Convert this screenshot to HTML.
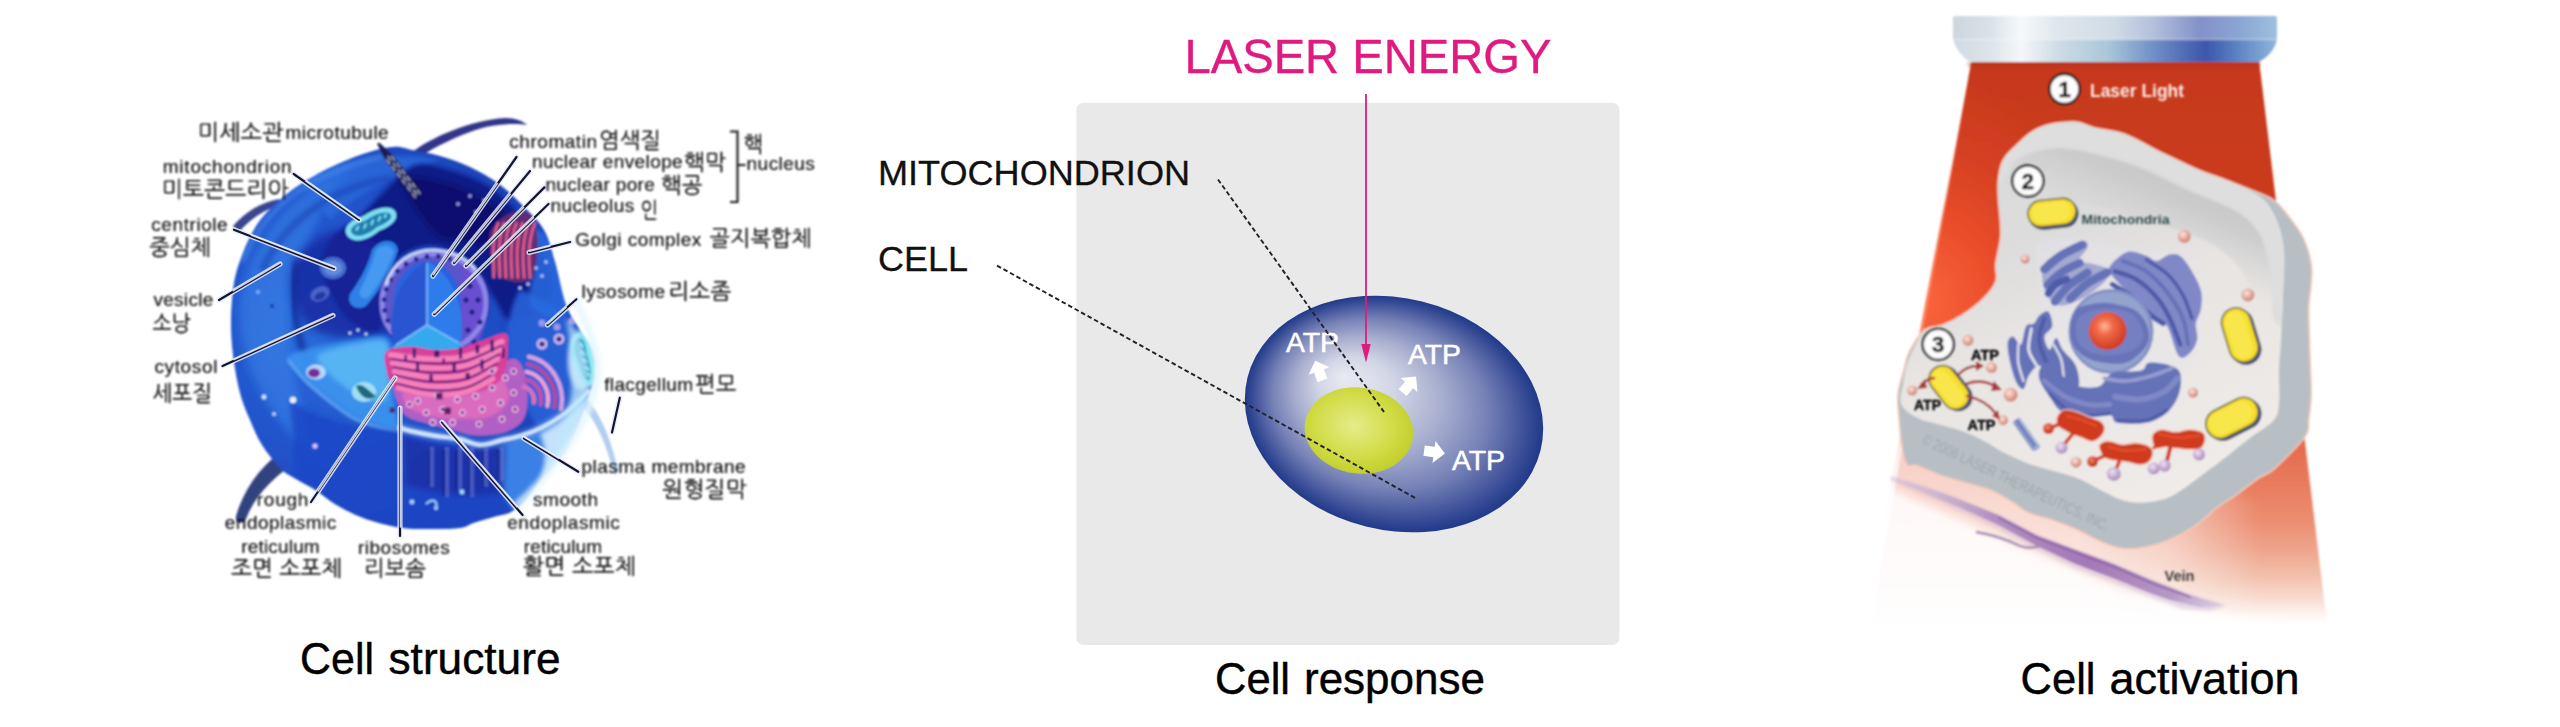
<!DOCTYPE html>
<html lang="ko"><head><meta charset="utf-8"><title>Cell structure, response, activation</title>
<style>
html,body{margin:0;padding:0;background:#fff;}
body{width:2560px;height:727px;overflow:hidden;position:relative;font-family:"Liberation Sans","Noto Sans CJK KR",sans-serif;}
svg{position:absolute;left:0;top:0;display:block}
text{font-family:"Liberation Sans","Noto Sans CJK KR",sans-serif;}
.cap{font-size:45px;fill:#000;stroke:#000;stroke-width:0.45px;}
.ko{font-family:"Liberation Sans","NanumGothic","Noto Sans CJK KR",sans-serif;stroke-width:0.2px;}
.b{font-weight:bold}
</style></head><body>
<svg width="2560" height="727" viewBox="0 0 2560 727">
<defs>

<filter id="lb1" x="-5%" y="-5%" width="110%" height="110%"><feGaussianBlur stdDeviation="1.1"/></filter>
<filter id="lb2" x="-10%" y="-10%" width="120%" height="120%"><feGaussianBlur stdDeviation="2.2"/></filter>
<filter id="lb4" x="-20%" y="-20%" width="140%" height="140%"><feGaussianBlur stdDeviation="4.5"/></filter>
<filter id="lb8" x="-30%" y="-30%" width="160%" height="160%"><feGaussianBlur stdDeviation="9"/></filter>
<filter id="ltx2" x="-5%" y="-20%" width="110%" height="140%"><feGaussianBlur stdDeviation="0.85"/></filter>
<filter id="ltx" x="-5%" y="-20%" width="110%" height="140%"><feGaussianBlur stdDeviation="0.75"/></filter>
<radialGradient id="gBody" gradientUnits="userSpaceOnUse" cx="330" cy="330" r="290">
<stop offset="0" stop-color="#2b6cdc"/><stop offset="0.45" stop-color="#2152ca"/><stop offset="0.8" stop-color="#1b43b9"/><stop offset="1" stop-color="#183aa8"/>
</radialGradient>
<clipPath id="cBody"><path d="M393.0,147.0 C401.2,146.3 404.2,148.5 412.0,150.0 C419.8,151.5 430.3,153.2 440.0,156.0 C449.7,158.8 460.2,162.3 470.0,167.0 C479.8,171.7 490.0,177.3 499.0,184.0 C508.0,190.7 516.5,199.3 524.0,207.0 C531.5,214.7 538.8,220.8 544.0,230.0 C549.2,239.2 551.3,249.5 555.0,262.0 C558.7,274.5 561.8,293.7 566.0,305.0 C570.2,316.3 575.7,322.5 580.0,330.0 C584.3,337.5 589.5,343.0 592.0,350.0 C594.5,357.0 595.3,365.0 595.0,372.0 C594.7,379.0 592.7,383.8 590.0,392.0 C587.3,400.2 582.8,411.7 579.0,421.0 C575.2,430.3 571.5,440.3 567.0,448.0 C562.5,455.7 556.8,461.2 552.0,467.0 C547.2,472.8 542.5,477.5 538.0,483.0 C533.5,488.5 529.5,495.2 525.0,500.0 C520.5,504.8 516.3,509.2 511.0,512.0 C505.7,514.8 499.3,515.2 493.0,517.0 C486.7,518.8 478.7,521.2 473.0,523.0 C467.3,524.8 468.2,527.0 459.0,528.0 C449.8,529.0 428.3,529.2 418.0,529.0 C407.7,528.8 404.0,528.2 397.0,527.0 C390.0,525.8 382.8,524.0 376.0,522.0 C369.2,520.0 362.8,518.0 356.0,515.0 C349.2,512.0 342.0,508.3 335.0,504.0 C328.0,499.7 320.8,493.3 314.0,489.0 C307.2,484.7 299.7,481.5 294.0,478.0 C288.3,474.5 285.3,473.5 280.0,468.0 C274.7,462.5 267.0,453.0 262.0,445.0 C257.0,437.0 253.7,428.7 250.0,420.0 C246.3,411.3 242.8,403.8 240.0,393.0 C237.2,382.2 234.5,367.2 233.0,355.0 C231.5,342.8 230.8,332.0 231.0,320.0 C231.2,308.0 232.3,293.3 234.0,283.0 C235.7,272.7 238.0,266.3 241.0,258.0 C244.0,249.7 247.7,240.7 252.0,233.0 C256.3,225.3 260.3,219.2 267.0,212.0 C273.7,204.8 282.0,197.2 292.0,190.0 C302.0,182.8 315.2,175.0 327.0,169.0 C338.8,163.0 352.0,157.7 363.0,154.0 C374.0,150.3 384.8,147.7 393.0,147.0 Z"/></clipPath>


<radialGradient id="gCell" cx="0.5" cy="0.5" r="0.5" fx="0.31" fy="0.40">
<stop offset="0" stop-color="#e9eaf2"/>
<stop offset="0.25" stop-color="#d2d6e6"/>
<stop offset="0.5" stop-color="#a6adce"/>
<stop offset="0.72" stop-color="#7681b6"/>
<stop offset="0.88" stop-color="#45579d"/>
<stop offset="1" stop-color="#20398a"/>
</radialGradient>
<radialGradient id="gMito" cx="0.45" cy="0.45" r="0.6">
<stop offset="0" stop-color="#e6ec8a"/>
<stop offset="0.6" stop-color="#d2dc48"/>
<stop offset="1" stop-color="#c0cc28"/>
</radialGradient>


<filter id="rbt" x="-5%" y="-20%" width="110%" height="140%"><feGaussianBlur stdDeviation="0.8"/></filter>
<filter id="rb1" x="-5%" y="-5%" width="110%" height="110%"><feGaussianBlur stdDeviation="0.8"/></filter>
<filter id="rb2" x="-10%" y="-10%" width="120%" height="120%"><feGaussianBlur stdDeviation="1.6"/></filter>
<filter id="rb8" x="-30%" y="-30%" width="160%" height="160%"><feGaussianBlur stdDeviation="9"/></filter>
<filter id="rb4" x="-20%" y="-20%" width="140%" height="140%"><feGaussianBlur stdDeviation="4"/></filter>
<linearGradient id="gHeadTop" x1="1953" x2="2277" y1="0" y2="0" gradientUnits="userSpaceOnUse">
<stop offset="0" stop-color="#ccd6de"/><stop offset="0.12" stop-color="#dbe3e9"/><stop offset="0.21" stop-color="#f6f9fb"/>
<stop offset="0.32" stop-color="#dfe7ec"/><stop offset="0.5" stop-color="#cfdbe6"/><stop offset="0.62" stop-color="#b3bfdc"/>
<stop offset="0.76" stop-color="#8391c9"/><stop offset="0.88" stop-color="#8aa4d2"/><stop offset="1" stop-color="#9dc0e0"/>
</linearGradient>
<linearGradient id="gHeadBot" x1="1953" x2="2277" y1="0" y2="0" gradientUnits="userSpaceOnUse">
<stop offset="0" stop-color="#d0dae2"/><stop offset="0.12" stop-color="#dde5eb"/><stop offset="0.21" stop-color="#f4f7fa"/>
<stop offset="0.32" stop-color="#cfdde6"/><stop offset="0.48" stop-color="#a9c6d9"/><stop offset="0.62" stop-color="#6f8fc6"/>
<stop offset="0.78" stop-color="#3b57ab"/><stop offset="0.88" stop-color="#5d84c4"/><stop offset="1" stop-color="#8fb6dc"/>
</linearGradient>
<linearGradient id="gBeam" x1="0" x2="0" y1="62" y2="625" gradientUnits="userSpaceOnUse">
<stop offset="0.000" stop-color="#c6391d"/><stop offset="0.245" stop-color="#cb3c1f"/><stop offset="0.423" stop-color="#d44324"/><stop offset="0.600" stop-color="#de5634"/><stop offset="0.671" stop-color="#e4694a"/><stop offset="0.742" stop-color="#e87a5c"/><stop offset="0.813" stop-color="#eb8d70"/><stop offset="0.867" stop-color="#eea58c"/><stop offset="0.920" stop-color="#f3c4b1"/><stop offset="0.956" stop-color="#f8dfd4"/><stop offset="0.982" stop-color="#fdf5f1"/><stop offset="1.000" stop-color="#ffffff"/>
</linearGradient>
<radialGradient id="gBeamL" gradientUnits="userSpaceOnUse" cx="1925" cy="300" r="185" gradientTransform="translate(1925 300) scale(1 1.25) translate(-1925 -300)">
<stop offset="0" stop-color="#ff6a42" stop-opacity="0.85"/><stop offset="0.35" stop-color="#f6552f" stop-opacity="0.7"/><stop offset="0.7" stop-color="#ee4c28" stop-opacity="0.3"/><stop offset="1" stop-color="#e84a28" stop-opacity="0"/>
</radialGradient>
<linearGradient id="gFadeL" x1="2080" x2="2260" y1="0" y2="0" gradientUnits="userSpaceOnUse">
<stop offset="0" stop-color="#fff" stop-opacity="0.7"/><stop offset="0.5" stop-color="#fff" stop-opacity="0.5"/><stop offset="1" stop-color="#fff" stop-opacity="0"/>
</linearGradient>
<linearGradient id="gBeamLm" x1="0" x2="0" y1="380" y2="520" gradientUnits="userSpaceOnUse">
<stop offset="0" stop-color="#fff" stop-opacity="0"/><stop offset="1" stop-color="#fff" stop-opacity="1"/>
</linearGradient>
<linearGradient id="gFace" x1="2000" y1="130" x2="2150" y2="500" gradientUnits="userSpaceOnUse">
<stop offset="0" stop-color="#dadada"/><stop offset="0.3" stop-color="#dedddd"/><stop offset="0.5" stop-color="#e7e4e2"/><stop offset="1" stop-color="#efebe8"/>
</linearGradient>
<radialGradient id="gNucS" cx="0.42" cy="0.38" r="0.62">
<stop offset="0" stop-color="#ffb89a"/><stop offset="0.35" stop-color="#ef6a48"/><stop offset="1" stop-color="#cf3a22"/>
</radialGradient>
<radialGradient id="gPink" cx="0.4" cy="0.35" r="0.65">
<stop offset="0" stop-color="#fbe6e0"/><stop offset="0.5" stop-color="#e8b0a4"/><stop offset="1" stop-color="#c98274"/>
</radialGradient>
<radialGradient id="gLav" cx="0.4" cy="0.35" r="0.65">
<stop offset="0" stop-color="#efe4f3"/><stop offset="0.5" stop-color="#cdb4d8"/><stop offset="1" stop-color="#a88ab8"/>
</radialGradient>
<radialGradient id="gRedB" cx="0.4" cy="0.35" r="0.65">
<stop offset="0" stop-color="#f08a6a"/><stop offset="0.6" stop-color="#d8482c"/><stop offset="1" stop-color="#b83018"/>
</radialGradient>
<linearGradient id="gVein" x1="1890" x2="2225" y1="478" y2="607" gradientUnits="userSpaceOnUse">
<stop offset="0" stop-color="#cdbcd8" stop-opacity="0.25"/><stop offset="0.12" stop-color="#c3aed0" stop-opacity="0.6"/><stop offset="0.3" stop-color="#b291c1"/><stop offset="0.6" stop-color="#a378b6"/><stop offset="0.85" stop-color="#b699c6"/><stop offset="1" stop-color="#d9cbe2" stop-opacity="0.7"/>
</linearGradient>

<clipPath id="cFace"><path d="M2003.0,162.0 C2005.5,156.8 2007.8,154.1 2013.7,148.6 C2019.7,143.1 2028.6,133.1 2038.5,128.8 C2048.4,124.5 2063.7,122.6 2073.2,122.6 C2082.7,122.6 2086.9,126.7 2095.5,128.8 C2104.1,130.9 2113.7,130.9 2124.8,135.0 C2135.8,139.1 2149.5,147.6 2161.9,153.6 C2174.3,159.5 2188.8,166.5 2199.1,170.9 C2209.4,175.3 2215.7,176.6 2223.8,179.8 C2232.0,183.0 2241.0,186.3 2248.0,190.0 C2255.0,193.7 2261.0,196.3 2266.0,202.0 C2271.0,207.7 2275.0,215.7 2278.0,224.0 C2281.0,232.3 2283.2,240.0 2284.0,252.0 C2284.8,264.0 2283.5,281.3 2283.0,296.0 C2282.5,310.7 2281.7,327.7 2281.0,340.0 C2280.3,352.3 2279.3,359.3 2279.0,370.0 C2278.7,380.7 2280.0,395.5 2279.0,404.0 C2278.0,412.5 2278.1,415.2 2273.0,421.0 C2267.9,426.8 2256.8,432.6 2248.6,438.9 C2240.4,445.2 2231.2,452.9 2223.8,458.7 C2216.4,464.5 2212.2,467.6 2204.0,473.6 C2195.8,479.6 2183.4,489.9 2174.3,494.7 C2165.2,499.4 2157.8,501.1 2149.5,502.1 C2141.3,503.1 2133.0,502.9 2124.8,500.9 C2116.5,498.8 2107.8,493.4 2100.0,489.7 C2092.2,486.0 2085.9,481.6 2078.1,478.5 C2070.4,475.4 2061.6,473.6 2053.4,471.1 C2045.1,468.6 2036.9,466.7 2028.6,463.7 C2020.4,460.6 2011.3,456.3 2003.8,452.5 C1996.4,448.7 1991.0,444.5 1984.0,440.9 C1977.0,437.3 1968.8,433.6 1961.7,431.0 C1954.7,428.4 1949.3,427.5 1941.9,425.3 C1934.5,423.1 1924.0,421.4 1917.2,417.8 C1910.3,414.2 1903.3,409.7 1901.1,403.7 C1898.8,397.7 1902.7,387.8 1903.5,381.9 C1904.4,376.0 1904.6,373.3 1906.0,368.3 C1907.4,363.3 1908.9,358.2 1912.0,352.0 C1915.1,345.8 1919.6,335.2 1924.6,330.9 C1929.6,326.6 1935.7,328.4 1941.9,325.9 C1948.1,323.5 1954.7,320.6 1961.7,316.0 C1968.8,311.5 1978.2,304.5 1984.0,298.7 C1989.8,292.9 1994.3,287.1 1996.4,281.4 C1998.5,275.6 1995.6,271.9 1996.4,264.0 C1997.2,256.2 2000.9,245.4 2001.4,234.3 C2001.8,223.2 1999.3,206.2 1998.9,197.2 C1998.5,188.1 1998.3,185.9 1999.0,180.0 C1999.7,174.1 2000.5,167.2 2003.0,162.0 Z"/></clipPath>
<clipPath id="cOuter"><path d="M2003.0,162.0 C2005.5,156.8 2007.8,154.1 2013.7,148.6 C2019.7,143.1 2028.6,133.1 2038.5,128.8 C2048.4,124.5 2063.7,122.6 2073.2,122.6 C2082.7,122.6 2086.9,126.7 2095.5,128.8 C2104.1,130.9 2113.7,130.9 2124.8,135.0 C2135.8,139.1 2149.5,147.6 2161.9,153.6 C2174.3,159.5 2188.8,166.5 2199.1,170.9 C2209.4,175.3 2215.6,176.7 2223.8,179.8 C2232.1,183.0 2240.4,186.2 2248.6,189.7 C2256.9,193.2 2266.8,196.3 2273.4,200.9 C2280.0,205.4 2283.3,210.6 2288.2,217.0 C2293.2,223.4 2299.4,231.4 2303.1,239.3 C2306.8,247.1 2309.3,256.6 2310.5,264.0 C2311.8,271.5 2310.9,276.4 2310.5,283.8 C2310.1,291.3 2308.3,296.4 2308.0,308.6 C2307.8,320.8 2308.9,342.9 2309.3,357.2 C2309.7,371.4 2310.7,384.0 2310.5,394.3 C2310.3,404.6 2309.1,412.1 2308.0,419.1 C2307.0,426.1 2310.1,428.2 2304.3,436.4 C2298.6,444.7 2281.0,461.8 2273.4,468.6 C2265.7,475.4 2264.3,473.4 2258.5,477.3 C2252.7,481.3 2245.7,487.2 2238.7,492.2 C2231.7,497.2 2223.0,502.1 2216.4,507.1 C2209.8,512.0 2206.1,517.0 2199.1,521.9 C2192.1,526.9 2182.6,532.9 2174.3,536.8 C2166.0,540.7 2157.8,543.6 2149.5,545.4 C2141.3,547.3 2132.5,548.5 2124.8,547.9 C2117.0,547.3 2110.7,544.8 2102.9,541.7 C2095.1,538.6 2086.4,533.1 2078.1,529.3 C2069.9,525.6 2061.6,522.3 2053.4,519.4 C2045.1,516.6 2035.2,514.9 2028.6,512.0 C2022.0,509.1 2019.9,505.8 2013.7,502.1 C2007.6,498.4 1999.3,493.0 1991.5,489.7 C1983.6,486.4 1974.9,484.8 1966.7,482.3 C1958.4,479.8 1950.2,477.8 1941.9,474.9 C1933.7,472.0 1922.9,466.8 1917.2,465.0 C1911.4,463.1 1909.7,467.2 1907.2,463.7 C1904.8,460.1 1903.5,451.3 1902.3,443.8 C1901.1,436.4 1900.4,427.3 1899.8,419.1 C1899.2,410.8 1897.8,402.6 1898.6,394.3 C1899.4,386.0 1902.9,376.6 1904.8,369.5 C1906.7,362.5 1906.7,358.4 1910.0,352.0 C1913.3,345.6 1919.3,335.2 1924.6,330.9 C1929.9,326.6 1935.7,328.4 1941.9,325.9 C1948.1,323.5 1954.7,320.6 1961.7,316.0 C1968.8,311.5 1978.2,304.5 1984.0,298.7 C1989.8,292.9 1994.3,287.1 1996.4,281.4 C1998.5,275.6 1995.6,271.9 1996.4,264.0 C1997.2,256.2 2000.9,245.4 2001.4,234.3 C2001.8,223.2 1999.3,206.2 1998.9,197.2 C1998.5,188.1 1998.3,185.9 1999.0,180.0 C1999.7,174.1 2000.5,167.2 2003.0,162.0 Z"/></clipPath>
<linearGradient id="gBand" x1="2160" y1="165" x2="2125" y2="245" gradientUnits="userSpaceOnUse"><stop offset="0" stop-color="#c6c6c8" stop-opacity="1"/><stop offset="0.35" stop-color="#cbcbcc" stop-opacity="0.9"/><stop offset="1" stop-color="#d6d5d5" stop-opacity="0"/></linearGradient>
</defs>
<rect width="2560" height="727" fill="#fff"/>
<!--LEFT-->
<g id="left">
<g filter="url(#lb1)">
<path d="M411,153 C430,138 470,120 505,118 C515,118 523,121 527,125 C515,123 490,124 470,132 C448,140 430,150 418,158 Z" fill="#32358a"/>
<path d="M281,452 C258,468 243,492 236,516 C235,523 242,526 246,519 C254,498 270,480 292,465 Z" fill="#33427f"/>
<path d="M233,226 C246,211 262,202 279,199 L281,205 C265,209 250,219 238,233 Z" fill="#3a4590"/>
<path d="M588,400 C600,415 610,435 618,470 C616,480 612,470 610,460 C604,440 596,422 584,408 Z" fill="#9fc3ec" opacity="0.8"/>
<path d="M393.0,147.0 C401.2,146.3 404.2,148.5 412.0,150.0 C419.8,151.5 430.3,153.2 440.0,156.0 C449.7,158.8 460.2,162.3 470.0,167.0 C479.8,171.7 490.0,177.3 499.0,184.0 C508.0,190.7 516.5,199.3 524.0,207.0 C531.5,214.7 538.8,220.8 544.0,230.0 C549.2,239.2 551.3,249.5 555.0,262.0 C558.7,274.5 561.8,293.7 566.0,305.0 C570.2,316.3 575.7,322.5 580.0,330.0 C584.3,337.5 589.5,343.0 592.0,350.0 C594.5,357.0 595.3,365.0 595.0,372.0 C594.7,379.0 592.7,383.8 590.0,392.0 C587.3,400.2 582.8,411.7 579.0,421.0 C575.2,430.3 571.5,440.3 567.0,448.0 C562.5,455.7 556.8,461.2 552.0,467.0 C547.2,472.8 542.5,477.5 538.0,483.0 C533.5,488.5 529.5,495.2 525.0,500.0 C520.5,504.8 516.3,509.2 511.0,512.0 C505.7,514.8 499.3,515.2 493.0,517.0 C486.7,518.8 478.7,521.2 473.0,523.0 C467.3,524.8 468.2,527.0 459.0,528.0 C449.8,529.0 428.3,529.2 418.0,529.0 C407.7,528.8 404.0,528.2 397.0,527.0 C390.0,525.8 382.8,524.0 376.0,522.0 C369.2,520.0 362.8,518.0 356.0,515.0 C349.2,512.0 342.0,508.3 335.0,504.0 C328.0,499.7 320.8,493.3 314.0,489.0 C307.2,484.7 299.7,481.5 294.0,478.0 C288.3,474.5 285.3,473.5 280.0,468.0 C274.7,462.5 267.0,453.0 262.0,445.0 C257.0,437.0 253.7,428.7 250.0,420.0 C246.3,411.3 242.8,403.8 240.0,393.0 C237.2,382.2 234.5,367.2 233.0,355.0 C231.5,342.8 230.8,332.0 231.0,320.0 C231.2,308.0 232.3,293.3 234.0,283.0 C235.7,272.7 238.0,266.3 241.0,258.0 C244.0,249.7 247.7,240.7 252.0,233.0 C256.3,225.3 260.3,219.2 267.0,212.0 C273.7,204.8 282.0,197.2 292.0,190.0 C302.0,182.8 315.2,175.0 327.0,169.0 C338.8,163.0 352.0,157.7 363.0,154.0 C374.0,150.3 384.8,147.7 393.0,147.0 Z" fill="url(#gBody)"/>
<g clip-path="url(#cBody)">
<path d="M240,300 C250,240 290,190 350,165 C330,200 300,240 290,300 C285,350 300,420 330,470 C290,440 235,380 240,300 Z" fill="#3a86ea" opacity="0.55" filter="url(#lb4)"/>
<path d="M300,180 C340,160 400,150 440,160 C400,175 360,190 330,220 Z" fill="#2f6fe0" opacity="0.7" filter="url(#lb2)"/>
<path d="M242,262 C256,228 280,200 312,182 C336,170 360,160 384,156" fill="none" stroke="#4a8cee" stroke-width="5" opacity="0.7" filter="url(#lb2)"/>
<path d="M262,270 C276,240 300,215 330,198 C350,188 372,180 392,178" fill="none" stroke="#173aa8" stroke-width="6" opacity="0.55" filter="url(#lb2)"/>
<path d="M415.0,165.0 C425.8,161.7 438.3,166.8 450.0,170.0 C461.7,173.2 474.7,178.0 485.0,184.0 C495.3,190.0 504.2,198.0 512.0,206.0 C519.8,214.0 526.3,222.7 532.0,232.0 C537.7,241.3 542.7,252.3 546.0,262.0 C549.3,271.7 553.0,282.0 552.0,290.0 C551.0,298.0 547.0,305.0 540.0,310.0 C533.0,315.0 517.5,321.7 510.0,320.0 C502.5,318.3 501.7,309.7 495.0,300.0 C488.3,290.3 480.8,271.0 470.0,262.0 C459.2,253.0 442.5,246.0 430.0,246.0 C417.5,246.0 403.3,253.0 395.0,262.0 C386.7,271.0 382.8,288.7 380.0,300.0 C377.2,311.3 383.0,326.7 378.0,330.0 C373.0,333.3 358.0,326.7 350.0,320.0 C342.0,313.3 334.7,299.7 330.0,290.0 C325.3,280.3 321.2,271.0 322.0,262.0 C322.8,253.0 328.3,244.0 335.0,236.0 C341.7,228.0 353.7,221.7 362.0,214.0 C370.3,206.3 376.2,198.2 385.0,190.0 C393.8,181.8 404.2,168.3 415.0,165.0 Z" fill="#0d1a86" filter="url(#lb2)"/>
<path d="M398,176 C430,176 470,186 500,210 C520,230 530,250 530,270 C500,250 470,240 440,238 C420,220 410,200 398,176 Z" fill="#070f6a" opacity="0.8" filter="url(#lb2)"/>
<path d="M297.0,258.0 C303.3,248.0 317.5,235.7 330.0,232.0 C342.5,228.3 360.0,228.7 372.0,236.0 C384.0,243.3 397.7,260.7 402.0,276.0 C406.3,291.3 407.5,317.7 398.0,328.0 C388.5,338.3 360.0,338.3 345.0,338.0 C330.0,337.7 316.8,333.7 308.0,326.0 C299.2,318.3 293.8,303.3 292.0,292.0 C290.2,280.7 290.7,268.0 297.0,258.0 Z" fill="#14249a" opacity="0.75" filter="url(#lb4)"/>
<path d="M296,262 C290,300 296,340 312,372" fill="none" stroke="#10208a" stroke-width="7" opacity="0.6" filter="url(#lb2)"/>
<path d="M520,290 C550,300 580,320 596,360 C596,400 580,430 560,455 C540,440 520,400 510,360 C505,330 510,305 520,290 Z" fill="#2a62d8" opacity="0.9" filter="url(#lb2)"/>
<path d="M287.7,357.8 C287.7,352.7 298.9,351.7 305.8,349.5 C312.7,347.3 320.1,346.3 328.9,344.6 C337.7,342.8 349.3,340.2 358.6,338.9 C368.0,337.7 379.5,334.1 385.0,337.0 C390.5,339.8 390.5,348.0 391.6,356.1 C392.7,364.2 390.5,373.7 391.6,385.8 C392.7,397.9 400.4,422.0 398.2,428.7 C396.0,435.4 386.1,428.2 378.4,426.1 C370.7,424.0 360.3,420.6 352.0,416.2 C343.8,411.8 336.6,405.7 328.9,399.7 C321.2,393.6 312.7,386.9 305.8,379.9 C298.9,372.9 287.7,362.8 287.7,357.8 Z" fill="#3b93ee" opacity="0.95" filter="url(#lb2)"/>
<path d="M319.0,354.5 C324.0,350.9 341.0,346.8 352.0,344.6 C363.0,342.4 379.0,337.7 385.0,341.3 C391.1,344.8 388.0,356.4 388.3,366.0 C388.6,375.6 390.5,393.5 386.7,399.0 C382.8,404.5 373.2,401.8 365.2,399.0 C357.2,396.3 346.0,388.0 338.8,382.5 C331.7,377.0 325.6,370.7 322.3,366.0 C319.0,361.3 314.1,358.0 319.0,354.5 Z" fill="#62c0f6" opacity="0.75" filter="url(#lb2)"/>
<path d="M287.7,359.4 C290.7,363.0 298.9,374.0 305.8,380.9 C312.7,387.7 321.2,394.6 328.9,400.7 C336.6,406.7 343.8,412.8 352.0,417.2 C360.3,421.6 369.6,424.6 378.4,427.1 C387.2,429.5 400.4,431.2 404.8,432.0" fill="none" stroke="#6db4f6" stroke-width="3" opacity="0.8" filter="url(#lb1)"/>
<path d="M290,400 C320,420 360,432 400,430 C440,445 490,448 540,430 C570,418 588,404 596,390 L600,470 L520,530 L400,545 L300,500 Z" fill="#1a45c6" opacity="0.8" filter="url(#lb2)"/>
<path d="M500,446 C530,438 560,422 590,394 C590,430 560,475 515,512 C500,495 492,470 500,446 Z" fill="#3f8cec" opacity="0.85" filter="url(#lb2)"/>
<path d="M540,434 C562,422 580,406 594,390 C594,428 572,462 536,494 C546,470 548,452 540,434 Z" fill="#d4ebfd" opacity="0.9" filter="url(#lb2)"/>
<path d="M398.0,427.0 C399.9,427.6 403.4,429.2 409.5,430.7 C415.6,432.1 426.1,434.3 434.3,435.7 C442.6,437.1 451.4,437.4 459.0,439.0 C466.6,440.6 473.1,444.8 480.0,445.0 C486.9,445.2 493.7,442.1 500.6,440.5 C507.5,438.9 514.4,437.9 521.3,435.7 C528.2,433.5 535.1,430.9 542.0,427.5 C548.9,424.1 556.4,419.5 562.6,415.0 C568.8,410.5 574.5,404.7 579.0,400.6 C583.5,396.5 587.7,392.0 589.4,390.3" fill="none" stroke="#eef7ff" stroke-width="4" opacity="0.97"/>
<path d="M398.0,427.0 C399.9,427.6 403.4,429.2 409.5,430.7 C415.6,432.1 426.1,434.3 434.3,435.7 C442.6,437.1 451.4,437.4 459.0,439.0 C466.6,440.6 473.1,444.8 480.0,445.0 C486.9,445.2 493.7,442.1 500.6,440.5 C507.5,438.9 514.4,437.9 521.3,435.7 C528.2,433.5 535.1,430.9 542.0,427.5 C548.9,424.1 556.4,419.5 562.6,415.0 C568.8,410.5 574.5,404.7 579.0,400.6 C583.5,396.5 587.7,392.0 589.4,390.3" fill="none" stroke="#a8d6ff" stroke-width="8" opacity="0.45" filter="url(#lb2)"/>
<path d="M404,436 C440,448 480,452 506,446 L504,492 C470,498 430,494 406,484 Z" fill="#1a2596" opacity="0.55" filter="url(#lb2)"/>
<rect x="428" y="450" width="5" height="36" fill="#141c80" opacity="0.5"/>
<rect x="442" y="450" width="5" height="46" fill="#141c80" opacity="0.5"/>
<rect x="455" y="450" width="5" height="40" fill="#141c80" opacity="0.5"/>
<rect x="468" y="450" width="5" height="46" fill="#141c80" opacity="0.5"/>
<rect x="482" y="450" width="5" height="38" fill="#141c80" opacity="0.5"/>
<rect x="496" y="450" width="5" height="30" fill="#141c80" opacity="0.5"/>
<rect x="430" y="447" width="4" height="40" fill="#6a7ee0" opacity="0.55"/>
<rect x="445" y="447" width="4" height="50" fill="#6a7ee0" opacity="0.55"/>
<rect x="458" y="447" width="4" height="44" fill="#6a7ee0" opacity="0.55"/>
<rect x="470" y="447" width="4" height="50" fill="#6a7ee0" opacity="0.55"/>
<rect x="484" y="447" width="4" height="40" fill="#6a7ee0" opacity="0.55"/>
<rect x="500" y="447" width="4" height="34" fill="#6a7ee0" opacity="0.55"/>
<path d="M372,250 C380,238 396,238 398,250 C392,272 378,292 366,306 C356,312 346,304 350,294 C360,280 368,266 372,250 Z" fill="#2f7fe6"/>
<path d="M376,250 C382,244 392,244 394,252 C388,270 378,286 368,298 C362,300 358,296 360,290 C366,278 372,266 376,250 Z" fill="#4aa0f4" opacity="0.8"/>
<ellipse cx="333" cy="268" rx="13" ry="11" fill="#4a78d6" opacity="0.9"/><ellipse cx="333" cy="268" rx="9" ry="7" fill="#6d93e0" opacity="0.8"/>
<ellipse cx="320" cy="294" rx="10" ry="7" fill="#5a6fd0" opacity="0.8" transform="rotate(-25 320 294)"/><ellipse cx="320" cy="296" rx="6" ry="3.5" fill="#1a2f9a" opacity="0.8" transform="rotate(-25 320 296)"/>
<ellipse cx="434" cy="303" rx="56" ry="53" fill="#232a96"/>
<ellipse cx="434" cy="303" rx="52" ry="49" fill="#5a54c8"/>
<path d="M462,262 C480,275 488,295 486,318 C484,335 476,346 468,352 C462,330 460,290 462,262 Z" fill="#6a4fd0" opacity="0.9"/>
<ellipse cx="434" cy="303" rx="52" ry="49" fill="none" stroke="#8c86ea" stroke-width="5"/>
<circle cx="393.0" cy="330.0" r="2.4" fill="#1c1f86"/>
<circle cx="387.6" cy="320.6" r="2.4" fill="#1c1f86"/>
<circle cx="384.6" cy="310.4" r="2.4" fill="#1c1f86"/>
<circle cx="384.1" cy="299.7" r="2.4" fill="#1c1f86"/>
<circle cx="386.2" cy="289.3" r="2.4" fill="#1c1f86"/>
<circle cx="390.7" cy="279.5" r="2.4" fill="#1c1f86"/>
<circle cx="397.4" cy="270.9" r="2.4" fill="#1c1f86"/>
<circle cx="406.0" cy="264.0" r="2.4" fill="#1c1f86"/>
<circle cx="416.1" cy="259.1" r="2.4" fill="#1c1f86"/>
<circle cx="427.0" cy="256.5" r="2.4" fill="#1c1f86"/>
<circle cx="438.4" cy="256.2" r="2.4" fill="#1c1f86"/>
<circle cx="449.5" cy="258.3" r="2.4" fill="#1c1f86"/>
<circle cx="470.0" cy="286.0" r="2.6" fill="#1a1a80"/>
<circle cx="478.0" cy="300.0" r="2.6" fill="#1a1a80"/>
<circle cx="472.0" cy="312.0" r="2.6" fill="#1a1a80"/>
<circle cx="480.0" cy="322.0" r="2.6" fill="#1a1a80"/>
<circle cx="468.0" cy="330.0" r="2.6" fill="#1a1a80"/>
<circle cx="474.0" cy="342.0" r="2.6" fill="#1a1a80"/>
<circle cx="466.0" cy="300.0" r="2.6" fill="#1a1a80"/>
<path d="M386,285 C392,262 412,250 434,250 C452,251 466,258 476,270" fill="none" stroke="#d6e4ff" stroke-width="3" opacity="0.9"/>
<ellipse cx="427" cy="305" rx="34" ry="44" fill="#2a62de"/>
<path d="M427,261 L427,325 L394,346 C386,320 394,280 427,261 Z" fill="#2b55d2"/>
<path d="M427,261 L427,325 L460,344 C466,318 458,278 427,261 Z" fill="#2f7bec"/>
<path d="M427,325 L392,347 C402,360 452,360 462,345 Z" fill="#35a8ee"/>
<path d="M427,263 L427,325 M427,325 L396,345 M427,325 L459,343" stroke="#8ccaff" stroke-width="1.6" fill="none" opacity="0.85"/>
<path d="M393.0,379.5 C395.2,377.3 403.5,384.8 409.5,386.1 C415.6,387.5 422.2,387.5 429.4,387.8 C436.5,388.1 444.8,388.3 452.5,387.8 C460.2,387.2 468.4,386.4 475.6,384.5 C482.7,382.6 489.9,380.4 495.4,376.2 C500.9,372.1 504.5,361.9 508.6,359.7 C512.7,357.5 517.0,358.9 520.0,363.0 C523.0,367.2 525.9,375.7 526.8,384.5 C527.6,393.3 528.2,408.2 525.1,415.9 C522.1,423.6 516.3,427.4 508.6,430.7 C500.9,434.0 488.2,435.8 478.9,435.7 C469.5,435.5 461.3,432.0 452.5,429.9 C443.7,427.8 433.8,425.6 426.1,423.3 C418.3,421.0 411.2,419.9 406.2,415.9 C401.3,411.9 398.5,405.4 396.3,399.4 C394.1,393.3 390.8,381.7 393.0,379.5 Z" fill="#b860c4" opacity="0.95"/>
<path d="M402.9,392.7 C406.2,390.8 420.0,395.5 429.4,396.1 C438.7,396.6 449.7,397.2 459.1,396.1 C468.4,394.9 478.3,392.2 485.5,389.4 C492.7,386.7 498.2,377.9 502.0,379.5 C505.9,381.2 510.3,393.3 508.6,399.4 C507.0,405.4 500.4,412.6 492.1,415.9 C483.8,419.2 469.5,419.2 459.1,419.2 C448.6,419.2 437.6,417.8 429.4,415.9 C421.1,413.9 413.9,411.5 409.5,407.6 C405.1,403.8 399.6,394.7 402.9,392.7 Z" fill="#e870bc" opacity="0.75" filter="url(#lb1)"/>
<path d="M386.4,351.5 C390.3,347.6 401.6,346.8 409.5,346.5 C417.5,346.2 426.1,349.5 434.3,349.8 C442.6,350.1 450.8,349.8 459.1,348.2 C467.3,346.5 476.1,342.4 483.8,339.9 C491.5,337.4 501.3,332.2 505.3,333.3 C509.3,334.4 507.6,341.0 507.8,346.5 C507.9,352.0 507.9,360.3 506.1,366.3 C504.3,372.4 502.1,378.4 497.1,382.8 C492.0,387.2 483.0,390.5 475.6,392.7 C468.2,394.9 460.2,395.5 452.5,396.1 C444.8,396.6 436.5,396.5 429.4,396.1 C422.2,395.6 415.6,395.2 409.5,393.6 C403.5,391.9 396.9,390.1 393.0,386.1 C389.2,382.2 387.5,375.4 386.4,369.6 C385.3,363.9 382.6,355.3 386.4,351.5 Z" fill="#d8409a"/>
<path d="M390.5,354.8 C397.0,355.5 416.8,358.6 429.4,358.9 C441.9,359.2 453.6,359.3 465.7,356.4 C477.8,353.5 496.0,344.0 502.0,341.6" fill="none" stroke="#f680bc" stroke-width="5.4" stroke-linecap="round"/>
<path d="M392.5,363.0 C398.7,363.9 417.2,367.6 429.4,368.0 C441.5,368.4 454.0,368.5 465.7,365.5 C477.4,362.5 494.0,352.4 499.7,349.8" fill="none" stroke="#f680bc" stroke-width="5.4" stroke-linecap="round"/>
<path d="M394.5,371.3 C400.3,372.2 417.5,376.5 429.4,377.1 C441.2,377.6 454.3,377.6 465.7,374.6 C477.0,371.6 492.1,361.5 497.4,358.9" fill="none" stroke="#f680bc" stroke-width="5.4" stroke-linecap="round"/>
<path d="M396.5,379.5 C402.0,380.6 417.8,385.5 429.4,386.1 C440.9,386.8 454.7,386.6 465.7,383.7 C476.6,380.8 490.2,371.3 495.1,368.8" fill="none" stroke="#f680bc" stroke-width="5.4" stroke-linecap="round"/>
<path d="M398.5,387.8 C403.6,388.9 418.2,393.7 429.4,394.4 C440.6,395.1 455.1,394.5 465.7,391.9 C476.2,389.3 488.2,380.9 492.8,378.7" fill="none" stroke="#f680bc" stroke-width="5.4" stroke-linecap="round"/>
<path d="M391.4,358.9 C397.7,359.7 417.0,363.2 429.4,363.5 C441.7,363.9 453.7,364.0 465.7,361.0 C477.7,358.1 495.3,348.2 501.2,345.7" fill="none" stroke="#5a1a78" stroke-width="2" stroke-linecap="round" opacity="0.85"/>
<path d="M393.4,367.2 C399.4,368.0 417.3,372.0 429.4,372.4 C441.4,372.9 454.1,373.0 465.7,370.0 C477.3,367.0 493.3,357.0 498.9,354.4" fill="none" stroke="#5a1a78" stroke-width="2" stroke-linecap="round" opacity="0.85"/>
<path d="M395.3,375.4 C401.0,376.5 417.6,381.1 429.4,381.7 C441.1,382.3 454.5,382.2 465.7,379.2 C476.9,376.2 491.4,366.4 496.6,363.9" fill="none" stroke="#5a1a78" stroke-width="2" stroke-linecap="round" opacity="0.85"/>
<path d="M397.3,383.7 C402.7,384.8 418.0,389.6 429.4,390.3 C440.7,391.0 454.9,390.6 465.7,387.8 C476.5,385.0 489.5,375.7 494.2,373.3" fill="none" stroke="#5a1a78" stroke-width="2" stroke-linecap="round" opacity="0.85"/>
<rect x="412.8" y="348.2" width="3.0" height="9.9" fill="#35106a" opacity="0.9"/>
<rect x="434.3" y="350.6" width="5.0" height="6.6" fill="#35106a" opacity="0.9"/>
<rect x="459.1" y="347.3" width="3.0" height="11.6" fill="#35106a" opacity="0.9"/>
<rect x="475.6" y="344.9" width="3.6" height="8.3" fill="#35106a" opacity="0.9"/>
<rect x="490.4" y="339.9" width="3.3" height="11.6" fill="#35106a" opacity="0.9"/>
<rect x="416.1" y="363.0" width="3.0" height="8.3" fill="#35106a" opacity="0.9"/>
<rect x="452.5" y="363.0" width="3.3" height="8.3" fill="#35106a" opacity="0.9"/>
<rect x="480.5" y="359.7" width="3.0" height="9.9" fill="#35106a" opacity="0.9"/>
<rect x="429.4" y="374.6" width="3.3" height="6.6" fill="#35106a" opacity="0.9"/>
<rect x="465.7" y="372.9" width="4.0" height="6.6" fill="#35106a" opacity="0.9"/>
<rect x="404.6" y="354.8" width="2.3" height="6.6" fill="#35106a" opacity="0.9"/>
<rect x="502.0" y="348.2" width="2.6" height="9.9" fill="#35106a" opacity="0.9"/>
<rect x="442.6" y="358.1" width="2.3" height="5.0" fill="#35106a" opacity="0.9"/>
<circle cx="417.8" cy="401.0" r="3.4" fill="#f2b4e6"/><circle cx="417.8" cy="401.0" r="1.7" fill="#2c0e70"/>
<circle cx="437.6" cy="395.2" r="3.4" fill="#f2b4e6"/><circle cx="437.6" cy="395.2" r="1.7" fill="#2c0e70"/>
<circle cx="457.4" cy="399.4" r="3.4" fill="#f2b4e6"/><circle cx="457.4" cy="399.4" r="1.7" fill="#2c0e70"/>
<circle cx="475.6" cy="396.1" r="3.4" fill="#f2b4e6"/><circle cx="475.6" cy="396.1" r="1.7" fill="#2c0e70"/>
<circle cx="492.1" cy="387.8" r="3.4" fill="#f2b4e6"/><circle cx="492.1" cy="387.8" r="1.7" fill="#2c0e70"/>
<circle cx="505.3" cy="377.9" r="3.4" fill="#f2b4e6"/><circle cx="505.3" cy="377.9" r="1.7" fill="#2c0e70"/>
<circle cx="513.6" cy="392.7" r="3.4" fill="#f2b4e6"/><circle cx="513.6" cy="392.7" r="1.7" fill="#2c0e70"/>
<circle cx="500.4" cy="402.7" r="3.4" fill="#f2b4e6"/><circle cx="500.4" cy="402.7" r="1.7" fill="#2c0e70"/>
<circle cx="482.2" cy="409.3" r="3.4" fill="#f2b4e6"/><circle cx="482.2" cy="409.3" r="1.7" fill="#2c0e70"/>
<circle cx="462.4" cy="412.6" r="3.4" fill="#f2b4e6"/><circle cx="462.4" cy="412.6" r="1.7" fill="#2c0e70"/>
<circle cx="442.6" cy="409.3" r="3.4" fill="#f2b4e6"/><circle cx="442.6" cy="409.3" r="1.7" fill="#2c0e70"/>
<circle cx="426.1" cy="412.6" r="3.4" fill="#f2b4e6"/><circle cx="426.1" cy="412.6" r="1.7" fill="#2c0e70"/>
<circle cx="409.5" cy="404.3" r="3.4" fill="#f2b4e6"/><circle cx="409.5" cy="404.3" r="1.7" fill="#2c0e70"/>
<circle cx="515.2" cy="409.3" r="3.4" fill="#f2b4e6"/><circle cx="515.2" cy="409.3" r="1.7" fill="#2c0e70"/>
<circle cx="502.0" cy="419.2" r="3.4" fill="#f2b4e6"/><circle cx="502.0" cy="419.2" r="1.7" fill="#2c0e70"/>
<circle cx="478.9" cy="424.1" r="3.4" fill="#f2b4e6"/><circle cx="478.9" cy="424.1" r="1.7" fill="#2c0e70"/>
<circle cx="452.5" cy="422.5" r="3.4" fill="#f2b4e6"/><circle cx="452.5" cy="422.5" r="1.7" fill="#2c0e70"/>
<circle cx="432.7" cy="422.5" r="3.4" fill="#f2b4e6"/><circle cx="432.7" cy="422.5" r="1.7" fill="#2c0e70"/>
<circle cx="513.6" cy="371.3" r="3.4" fill="#f2b4e6"/><circle cx="513.6" cy="371.3" r="1.7" fill="#2c0e70"/>
<circle cx="492.1" cy="371.3" r="3.4" fill="#f2b4e6"/><circle cx="492.1" cy="371.3" r="1.7" fill="#2c0e70"/>
<rect x="436.0" y="392.7" width="6.6" height="6.6" fill="#4a0e50" opacity="0.85"/>
<rect x="444.2" y="407.6" width="6.6" height="6.6" fill="#4a0e50" opacity="0.85"/>
<rect x="389.7" y="407.6" width="5.0" height="5.0" fill="#4a0e50" opacity="0.85"/>
<path d="M533.0,232.0 C535.0,227.0 541.9,230.3 546.0,236.0 C550.1,241.7 553.3,255.0 557.6,266.0 C561.9,277.0 571.6,293.3 572.0,302.0 C572.4,310.7 567.0,317.3 560.0,318.0 C553.0,318.7 534.3,314.7 530.0,306.0 C525.7,297.3 533.5,278.3 534.0,266.0 C534.5,253.7 531.0,237.0 533.0,232.0 Z" fill="#2c6ae0" opacity="0.85" filter="url(#lb2)"/>
<path d="M490,232 C500,214 516,208 530,214 C540,228 540,256 532,278 C520,286 504,282 496,272 C490,260 488,246 490,232 Z" fill="#6a2a70" opacity="0.92"/>
<g transform="rotate(10 512 248)">
<path d="M494,226 C490,243 496,262 499,280" fill="none" stroke="#dc5f8c" stroke-width="2.8" stroke-linecap="round"/>
<path d="M500,225 C496,243 502,262 505,279" fill="none" stroke="#dc5f8c" stroke-width="2.8" stroke-linecap="round"/>
<path d="M506,224 C502,243 508,262 511,278" fill="none" stroke="#dc5f8c" stroke-width="2.8" stroke-linecap="round"/>
<path d="M512,223 C508,243 514,262 517,277" fill="none" stroke="#dc5f8c" stroke-width="2.8" stroke-linecap="round"/>
<path d="M518,222 C514,243 520,262 523,276" fill="none" stroke="#dc5f8c" stroke-width="2.8" stroke-linecap="round"/>
<path d="M524,221 C520,243 526,262 529,275" fill="none" stroke="#dc5f8c" stroke-width="2.8" stroke-linecap="round"/>
<path d="M530,220 C526,243 532,262 535,274" fill="none" stroke="#dc5f8c" stroke-width="2.8" stroke-linecap="round"/>
</g>
<circle cx="536" cy="268" r="1.8" fill="#b9c6ff"/>
<circle cx="542" cy="276" r="1.8" fill="#b9c6ff"/>
<circle cx="528" cy="284" r="1.8" fill="#b9c6ff"/>
<circle cx="546" cy="262" r="1.8" fill="#b9c6ff"/>
<circle cx="520" cy="288" r="1.8" fill="#b9c6ff"/>
<path d="M524.1,387.0 A12,13 0 0 1 533.7,402.7" fill="none" stroke="#e070c0" stroke-width="4.2" stroke-linecap="round"/>
<path d="M525.3,379.4 A19,20 0 0 1 540.6,404.3" fill="none" stroke="#c050b0" stroke-width="4.2" stroke-linecap="round"/>
<path d="M526.5,371.8 A26,28 0 0 1 547.4,405.9" fill="none" stroke="#f0a0d8" stroke-width="4.2" stroke-linecap="round"/>
<path d="M527.7,364.3 A33,36 0 0 1 554.3,407.5" fill="none" stroke="#b04aa8" stroke-width="4.2" stroke-linecap="round"/>
<path d="M528.9,356.7 A40,44 0 0 1 561.1,409.1" fill="none" stroke="#d8a0e0" stroke-width="4.2" stroke-linecap="round"/>
<circle cx="542" cy="344" r="5.5" fill="#c8b6f0"/><circle cx="542" cy="344" r="2.6" fill="#2a1670"/>
<circle cx="559" cy="339" r="5.5" fill="#c8b6f0"/><circle cx="559" cy="339" r="2.6" fill="#2a1670"/>
<circle cx="542" cy="323" r="3.5" fill="#b9a6ec" opacity="0.8"/>
<circle cx="572" cy="321" r="3.5" fill="#b9a6ec" opacity="0.8"/>
<circle cx="557" cy="327" r="3.5" fill="#b9a6ec" opacity="0.8"/>
<g transform="translate(371 225) rotate(-20)"><path d="M-26,2 C-28,-8 -16,-12 -4,-11 C8,-14 22,-14 27,-6 C30,4 18,8 6,8 C-4,12 -22,14 -26,2 Z" fill="#7fe0f0"/><path d="M-21,1 C-22,-5 -14,-7 -4,-6 C6,-9 18,-9 22,-4 C24,2 14,4 5,4 C-4,8 -18,9 -21,1 Z" fill="#1f7fb0"/><path d="M-16,0 L-12,-3 M-8,1 L-4,-3 M0,0 L4,-4 M8,-1 L12,-5 M15,-2 L18,-5" stroke="#8fe8f4" stroke-width="1.8"/></g>
<ellipse cx="582" cy="360" rx="14" ry="30" fill="#dff5ff" opacity="0.85" filter="url(#lb2)"/>
<g transform="translate(582.5 359) rotate(80)"><path d="M-26,2 C-28,-8 -16,-11 -4,-10 C8,-12 22,-12 27,-5 C30,4 18,8 6,8 C-4,11 -22,12 -26,2 Z" fill="#7fe4f2"/><path d="M-21,1 C-22,-5 -14,-6 -4,-5 C6,-7 18,-7 22,-3 C24,2 14,4 5,4 C-4,7 -18,8 -21,1 Z" fill="#1f9ac0"/><path d="M-16,0 L-12,-3 M-8,1 L-4,-3 M0,0 L4,-4 M8,-1 L12,-5 M15,-2 L18,-5" stroke="#9ff0f8" stroke-width="1.8"/></g>
<ellipse cx="316" cy="372" rx="10" ry="7.5" fill="#b6d6fa"/><ellipse cx="314" cy="373" rx="6" ry="4.5" fill="#7a2a9a"/>
<ellipse cx="364" cy="392" rx="12" ry="10" fill="#a8e6f4" opacity="0.9"/><path d="M356,386 C362,382 368,390 376,396 C370,402 360,398 356,386 Z" fill="#1f6a7a"/>
<circle cx="264.0" cy="397.0" r="2.4" fill="#cfe6ff"/>
<circle cx="293.0" cy="400.0" r="3.2" fill="#e8f4ff"/>
<circle cx="274.0" cy="414.0" r="2.0" fill="#b0d0ff"/>
<circle cx="315.0" cy="446.0" r="2.6" fill="#d8c0ff"/>
<circle cx="258.0" cy="292.0" r="2.0" fill="#7fb0ff"/>
<circle cx="272.0" cy="306.0" r="2.0" fill="#1a3aa0"/>
<circle cx="412.0" cy="502.0" r="2.4" fill="#9fd0ff"/>
<circle cx="462.0" cy="492.0" r="2.4" fill="#9fe0ff"/>
<circle cx="436.0" cy="508.0" r="2.0" fill="#9fd0ff"/>
<circle cx="350.0" cy="333.0" r="1.6" fill="#cfe0ff"/>
<circle cx="358.0" cy="330.0" r="1.6" fill="#cfe0ff"/>
<circle cx="366.0" cy="334.0" r="1.6" fill="#cfe0ff"/>
<circle cx="458.0" cy="204.0" r="1.8" fill="#9aa8f0"/>
<circle cx="470.0" cy="196.0" r="1.8" fill="#9aa8f0"/>
<circle cx="476.0" cy="212.0" r="1.8" fill="#9aa8f0"/>
<circle cx="484.0" cy="200.0" r="1.6" fill="#9aa8f0"/>
<path d="M426,504 C432,498 438,500 436,508" fill="none" stroke="#9fd0ff" stroke-width="2"/>
</g>
<path d="M575,300 C590,330 598,352 597,372 C596,400 580,432 556,462 C545,478 530,494 516,506" fill="none" stroke="#e4f6ff" stroke-width="7" opacity="0.85" filter="url(#lb2)"/>
<path d="M566,318 C586,340 592,372 586,398 C578,425 560,455 540,476 C560,440 572,410 572,380 C572,352 570,335 566,318 Z" fill="#bfe8fb" opacity="0.75" filter="url(#lb2)"/>
<g transform="translate(398.7 170.2) rotate(52.7)"><path d="M-34,-1.2 L-16,-4.5 L32,-5.5 L34,5.5 L-16,4.5 L-34,1.2 Z" fill="#1a1f52"/><path d="M-16,-2.8 H32 M-18,0.2 H33 M-16,3.2 H32" stroke="#e4eaff" stroke-width="1.1" stroke-dasharray="6 2.5" opacity="0.8"/></g>
</g>
<g filter="url(#ltx)">
<line x1="293.7" y1="174.0" x2="359.0" y2="219.8" stroke="#e6ecff" stroke-width="5.2" stroke-linecap="round" opacity="0.85"/><line x1="293.7" y1="174.0" x2="359.0" y2="219.8" stroke="#14162a" stroke-width="2.2" stroke-linecap="round"/>
<line x1="233.9" y1="229.7" x2="334.0" y2="268.5" stroke="#e6ecff" stroke-width="5.2" stroke-linecap="round" opacity="0.85"/><line x1="233.9" y1="229.7" x2="334.0" y2="268.5" stroke="#14162a" stroke-width="2.2" stroke-linecap="round"/>
<line x1="219.0" y1="300.0" x2="280.0" y2="264.0" stroke="#e6ecff" stroke-width="5.2" stroke-linecap="round" opacity="0.85"/><line x1="219.0" y1="300.0" x2="280.0" y2="264.0" stroke="#14162a" stroke-width="2.2" stroke-linecap="round"/>
<line x1="222.5" y1="366.0" x2="333.0" y2="315.4" stroke="#e6ecff" stroke-width="5.2" stroke-linecap="round" opacity="0.85"/><line x1="222.5" y1="366.0" x2="333.0" y2="315.4" stroke="#14162a" stroke-width="2.2" stroke-linecap="round"/>
<line x1="516.5" y1="157.0" x2="433.0" y2="276.0" stroke="#e6ecff" stroke-width="5.2" stroke-linecap="round" opacity="0.85"/><line x1="516.5" y1="157.0" x2="433.0" y2="276.0" stroke="#14162a" stroke-width="2.2" stroke-linecap="round"/>
<line x1="530.0" y1="171.0" x2="454.0" y2="263.0" stroke="#e6ecff" stroke-width="5.2" stroke-linecap="round" opacity="0.85"/><line x1="530.0" y1="171.0" x2="454.0" y2="263.0" stroke="#14162a" stroke-width="2.2" stroke-linecap="round"/>
<line x1="544.4" y1="187.4" x2="466.0" y2="266.0" stroke="#e6ecff" stroke-width="5.2" stroke-linecap="round" opacity="0.85"/><line x1="544.4" y1="187.4" x2="466.0" y2="266.0" stroke="#14162a" stroke-width="2.2" stroke-linecap="round"/>
<line x1="548.5" y1="204.0" x2="434.3" y2="314.2" stroke="#e6ecff" stroke-width="5.2" stroke-linecap="round" opacity="0.85"/><line x1="548.5" y1="204.0" x2="434.3" y2="314.2" stroke="#14162a" stroke-width="2.2" stroke-linecap="round"/>
<line x1="570.2" y1="242.0" x2="529.0" y2="252.4" stroke="#e6ecff" stroke-width="5.2" stroke-linecap="round" opacity="0.85"/><line x1="570.2" y1="242.0" x2="529.0" y2="252.4" stroke="#14162a" stroke-width="2.2" stroke-linecap="round"/>
<line x1="576.4" y1="299.2" x2="547.5" y2="325.0" stroke="#e6ecff" stroke-width="5.2" stroke-linecap="round" opacity="0.85"/><line x1="576.4" y1="299.2" x2="547.5" y2="325.0" stroke="#14162a" stroke-width="2.2" stroke-linecap="round"/>
<line x1="619.8" y1="397.7" x2="612.0" y2="432.4" stroke="#e6ecff" stroke-width="5.2" stroke-linecap="round" opacity="0.85"/><line x1="619.8" y1="397.7" x2="612.0" y2="432.4" stroke="#14162a" stroke-width="2.2" stroke-linecap="round"/>
<line x1="578.3" y1="471.8" x2="523.8" y2="438.4" stroke="#e6ecff" stroke-width="5.2" stroke-linecap="round" opacity="0.85"/><line x1="578.3" y1="471.8" x2="523.8" y2="438.4" stroke="#14162a" stroke-width="2.2" stroke-linecap="round"/>
<line x1="522.6" y1="515.0" x2="442.0" y2="422.3" stroke="#e6ecff" stroke-width="5.2" stroke-linecap="round" opacity="0.85"/><line x1="522.6" y1="515.0" x2="442.0" y2="422.3" stroke="#14162a" stroke-width="2.2" stroke-linecap="round"/>
<line x1="311.0" y1="502.0" x2="395.0" y2="378.0" stroke="#e6ecff" stroke-width="5.2" stroke-linecap="round" opacity="0.85"/><line x1="311.0" y1="502.0" x2="395.0" y2="378.0" stroke="#14162a" stroke-width="2.2" stroke-linecap="round"/>
<line x1="400.0" y1="536.0" x2="400.0" y2="408.0" stroke="#e6ecff" stroke-width="5.2" stroke-linecap="round" opacity="0.85"/><line x1="400.0" y1="536.0" x2="400.0" y2="408.0" stroke="#14162a" stroke-width="2.2" stroke-linecap="round"/>
<g clip-path="url(#cBody)">
<line x1="294.1" y1="172.8" x2="359.4" y2="218.6" stroke="#eef0ff" stroke-width="1.5" stroke-linecap="round" opacity="0.85"/>
<line x1="234.3" y1="228.5" x2="334.4" y2="267.3" stroke="#eef0ff" stroke-width="1.5" stroke-linecap="round" opacity="0.85"/>
<line x1="219.4" y1="298.8" x2="280.4" y2="262.8" stroke="#eef0ff" stroke-width="1.5" stroke-linecap="round" opacity="0.85"/>
<line x1="222.9" y1="364.8" x2="333.4" y2="314.2" stroke="#eef0ff" stroke-width="1.5" stroke-linecap="round" opacity="0.85"/>
<line x1="516.9" y1="155.8" x2="433.4" y2="274.8" stroke="#eef0ff" stroke-width="1.5" stroke-linecap="round" opacity="0.85"/>
<line x1="530.4" y1="169.8" x2="454.4" y2="261.8" stroke="#eef0ff" stroke-width="1.5" stroke-linecap="round" opacity="0.85"/>
<line x1="544.8" y1="186.2" x2="466.4" y2="264.8" stroke="#eef0ff" stroke-width="1.5" stroke-linecap="round" opacity="0.85"/>
<line x1="548.9" y1="202.8" x2="434.7" y2="313.0" stroke="#eef0ff" stroke-width="1.5" stroke-linecap="round" opacity="0.85"/>
<line x1="570.6" y1="240.8" x2="529.4" y2="251.2" stroke="#eef0ff" stroke-width="1.5" stroke-linecap="round" opacity="0.85"/>
<line x1="576.8" y1="298.0" x2="547.9" y2="323.8" stroke="#eef0ff" stroke-width="1.5" stroke-linecap="round" opacity="0.85"/>
<line x1="620.2" y1="396.5" x2="612.4" y2="431.2" stroke="#eef0ff" stroke-width="1.5" stroke-linecap="round" opacity="0.85"/>
<line x1="578.7" y1="470.6" x2="524.2" y2="437.2" stroke="#eef0ff" stroke-width="1.5" stroke-linecap="round" opacity="0.85"/>
<line x1="523.0" y1="513.8" x2="442.4" y2="421.1" stroke="#eef0ff" stroke-width="1.5" stroke-linecap="round" opacity="0.85"/>
<line x1="311.4" y1="500.8" x2="395.4" y2="376.8" stroke="#eef0ff" stroke-width="1.5" stroke-linecap="round" opacity="0.85"/>
<line x1="400.4" y1="534.8" x2="400.4" y2="406.8" stroke="#eef0ff" stroke-width="1.5" stroke-linecap="round" opacity="0.85"/>
</g>
</g>
<g fill="#0a0a0a" stroke="#0a0a0a" stroke-width="0.1" filter="url(#ltx2)"><text class="ko" x="197.8" y="139.8" font-size="22" textLength="85.6" lengthAdjust="spacingAndGlyphs">미세소관</text>
<text x="285.5" y="138.9" font-size="19" textLength="103.2" lengthAdjust="spacing">microtubule</text>
<text x="162.7" y="172.9" font-size="19" textLength="129.0" lengthAdjust="spacing">mitochondrion</text>
<text class="ko" x="161.7" y="196.5" font-size="22" textLength="126.9" lengthAdjust="spacingAndGlyphs">미토콘드리아</text>
<text x="151.3" y="230.7" font-size="19" textLength="76.4" lengthAdjust="spacing">centriole</text>
<text class="ko" x="149.3" y="255.3" font-size="22" textLength="61.9" lengthAdjust="spacingAndGlyphs">중심체</text>
<text x="153.4" y="306.1" font-size="19" textLength="59.9" lengthAdjust="spacing">vesicle</text>
<text class="ko" x="152.4" y="330.7" font-size="22" textLength="38.2" lengthAdjust="spacingAndGlyphs">소낭</text>
<text x="154.4" y="373.2" font-size="19" textLength="63.0" lengthAdjust="spacing">cytosol</text>
<text class="ko" x="152.4" y="400.8" font-size="22" textLength="59.8" lengthAdjust="spacingAndGlyphs">세포질</text>
<text x="509.3" y="148.2" font-size="19" textLength="87.7" lengthAdjust="spacing">chromatin</text>
<text class="ko" x="599.0" y="148.0" font-size="22" textLength="62.0" lengthAdjust="spacingAndGlyphs">염색질</text>
<text x="532.0" y="167.8" font-size="19" textLength="150.7" lengthAdjust="spacing">nuclear envelope</text>
<text class="ko" x="683.7" y="169.7" font-size="22" textLength="42.3" lengthAdjust="spacingAndGlyphs">핵막</text>
<text x="545.4" y="190.5" font-size="19" textLength="109.4" lengthAdjust="spacing">nuclear pore</text>
<text class="ko" x="661.0" y="193.4" font-size="22" textLength="41.3" lengthAdjust="spacingAndGlyphs">핵공</text>
<text x="550.6" y="212.2" font-size="19" textLength="83.6" lengthAdjust="spacing">nucleolus</text>
<text class="ko" x="640.4" y="218.2" font-size="22" textLength="17.5" lengthAdjust="spacingAndGlyphs">인</text>
<text x="575.3" y="246.2" font-size="19" textLength="125.9" lengthAdjust="spacing">Golgi complex</text>
<text class="ko" x="709.5" y="246.1" font-size="22" textLength="102.2" lengthAdjust="spacingAndGlyphs">골지복합체</text>
<text class="ko" x="743.6" y="152.1" font-size="22" textLength="19.6" lengthAdjust="spacingAndGlyphs">핵</text>
<text x="746.6" y="169.9" font-size="19" textLength="68.2" lengthAdjust="spacing">nucleus</text>
<text x="581.5" y="298.2" font-size="19" textLength="83.5" lengthAdjust="spacing">lysosome</text>
<text class="ko" x="668.2" y="299.0" font-size="22" textLength="63.0" lengthAdjust="spacingAndGlyphs">리소좀</text>
<text x="604.2" y="391.0" font-size="19" textLength="88.8" lengthAdjust="spacing">flacgellum</text>
<text class="ko" x="695.0" y="391.8" font-size="22" textLength="41.3" lengthAdjust="spacingAndGlyphs">편모</text>
<text x="581.5" y="473.0" font-size="19" textLength="164.1" lengthAdjust="spacing">plasma membrane</text>
<text class="ko" x="662.0" y="496.6" font-size="22" textLength="84.6" lengthAdjust="spacingAndGlyphs">원형질막</text>
<text x="533.0" y="506.0" font-size="19" textLength="65.0" lengthAdjust="spacing">smooth</text>
<text x="507.2" y="528.8" font-size="19" textLength="112.5" lengthAdjust="spacing">endoplasmic</text>
<text x="523.7" y="552.5" font-size="19" textLength="78.5" lengthAdjust="spacing">reticulum</text>
<text class="ko" x="522.7" y="574.0" font-size="22" textLength="113.5" lengthAdjust="spacingAndGlyphs">활면 소포체</text>
<text x="256.8" y="506.1" font-size="19" textLength="51.6" lengthAdjust="spacing">rough</text>
<text x="224.8" y="528.8" font-size="19" textLength="111.4" lengthAdjust="spacing">endoplasmic</text>
<text x="241.3" y="552.6" font-size="19" textLength="78.4" lengthAdjust="spacing">reticulum</text>
<text class="ko" x="231.0" y="576.1" font-size="22" textLength="111.4" lengthAdjust="spacingAndGlyphs">조면 소포체</text>
<text x="357.9" y="553.6" font-size="19" textLength="91.8" lengthAdjust="spacing">ribosomes</text>
<text class="ko" x="364.0" y="576.1" font-size="22" textLength="62.0" lengthAdjust="spacingAndGlyphs">리보솜</text>
<path d="M730,131.5 H737.5 V202 H730 M737.5,165 H745.5" fill="none" stroke="#1b1b1b" stroke-width="2.2"/>
</g>
</g>
<!--MID-->
<g id="mid">
<rect x="1076.4" y="102.8" width="543" height="542.2" rx="7" fill="#e9e9e9"/>
<text x="1184.5" y="73" font-size="49" fill="#e01b7f" stroke="#e01b7f" stroke-width="0.4" textLength="367" lengthAdjust="spacingAndGlyphs">LASER ENERGY</text>
<text x="878" y="184.5" font-size="34.5" fill="#111" stroke="#111" stroke-width="0.3" textLength="312" lengthAdjust="spacingAndGlyphs">MITOCHONDRION</text>
<text x="878" y="271.3" font-size="34.5" fill="#111" stroke="#111" stroke-width="0.3" textLength="90" lengthAdjust="spacingAndGlyphs">CELL</text>
<g transform="rotate(14 1394 414)">
<ellipse cx="1394" cy="414" rx="151" ry="116" fill="url(#gCell)"/>
</g>
<ellipse cx="1359" cy="430.5" rx="54.5" ry="43" fill="url(#gMito)" transform="rotate(8 1359 430)"/>
<g fill="#fff" stroke="#fff" stroke-width="0.5" font-size="27.5">
<text x="1286" y="352" textLength="53" lengthAdjust="spacingAndGlyphs">ATP</text>
<text x="1408" y="364" textLength="53" lengthAdjust="spacingAndGlyphs">ATP</text>
<text x="1452" y="470" textLength="53" lengthAdjust="spacingAndGlyphs">ATP</text>
</g>
<g fill="#fff">
<path id="barrow" d="M-10,-5.2 H0 V-11 L11,0 L0,11 V5.2 H-10 Z" transform="translate(1319 371) rotate(-110)"/>
<path d="M-10,-5.2 H0 V-11 L11,0 L0,11 V5.2 H-10 Z" transform="translate(1409 385) rotate(-50)"/>
<path d="M-10,-5.2 H0 V-11 L11,0 L0,11 V5.2 H-10 Z" transform="translate(1434 452) rotate(8)"/>
</g>
<g stroke="#20202a" stroke-width="1.9" stroke-dasharray="4.6 2.8" fill="none">
<line x1="1218" y1="179.5" x2="1384" y2="412"/>
<line x1="997" y1="265.6" x2="1417" y2="499"/>
</g>
<line x1="1366" y1="94" x2="1366" y2="350" stroke="#e01b7f" stroke-width="1.8"/>
<path d="M1361.3,344 L1370.7,344 L1366,362.5 Z" fill="#e01b7f"/>
</g>
<!--RIGHT-->
<g id="right" filter="url(#rb1)">
<path d="M1971.5,60 L2259,60 L2327.5,628 L1870,628 Z" fill="url(#gBeam)"/>
<path d="M1971.5,60 L2130,60 L2130,540 L1880,540 Z" fill="url(#gBeamL)" opacity="1"/>
<path d="M1850,360 L1900,360 L1900,440 L1966,466 L2030,496 L2080,514 L2125,532 L2175,528 L2230,492 L2290,515 L2290,650 L1850,650 Z" fill="url(#gFadeL)" filter="url(#rb4)"/>
<path d="M1850,480 L1892,489 L2030,551 L2120,590 L2226,616 L2330,630 L2330,650 L1850,650 Z" fill="#fff" opacity="0.85" filter="url(#rb4)"/>
<rect x="1968" y="61" width="292" height="6" fill="#a82a12" opacity="0.35" filter="url(#rb2)"/>
<path d="M1953,17 Q1953,16 1955,16 L2275,16 Q2277,16 2277,18 L2277,40 L1953,40 Z" fill="url(#gHeadTop)"/>
<path d="M1953,39.5 L2277,39.5 Q2274,54 2258.5,62 L1970.5,62 Q1957,54 1953,39.5 Z" fill="url(#gHeadBot)"/>
<rect x="1953" y="38.6" width="324" height="1.6" fill="#fff" opacity="0.35"/>
<path d="M2003.0,162.0 C2005.5,156.8 2007.8,154.1 2013.7,148.6 C2019.7,143.1 2028.6,133.1 2038.5,128.8 C2048.4,124.5 2063.7,122.6 2073.2,122.6 C2082.7,122.6 2086.9,126.7 2095.5,128.8 C2104.1,130.9 2113.7,130.9 2124.8,135.0 C2135.8,139.1 2149.5,147.6 2161.9,153.6 C2174.3,159.5 2188.8,166.5 2199.1,170.9 C2209.4,175.3 2215.6,176.7 2223.8,179.8 C2232.1,183.0 2240.4,186.2 2248.6,189.7 C2256.9,193.2 2266.8,196.3 2273.4,200.9 C2280.0,205.4 2283.3,210.6 2288.2,217.0 C2293.2,223.4 2299.4,231.4 2303.1,239.3 C2306.8,247.1 2309.3,256.6 2310.5,264.0 C2311.8,271.5 2310.9,276.4 2310.5,283.8 C2310.1,291.3 2308.3,296.4 2308.0,308.6 C2307.8,320.8 2308.9,342.9 2309.3,357.2 C2309.7,371.4 2310.7,384.0 2310.5,394.3 C2310.3,404.6 2309.1,412.1 2308.0,419.1 C2307.0,426.1 2310.1,428.2 2304.3,436.4 C2298.6,444.7 2281.0,461.8 2273.4,468.6 C2265.7,475.4 2264.3,473.4 2258.5,477.3 C2252.7,481.3 2245.7,487.2 2238.7,492.2 C2231.7,497.2 2223.0,502.1 2216.4,507.1 C2209.8,512.0 2206.1,517.0 2199.1,521.9 C2192.1,526.9 2182.6,532.9 2174.3,536.8 C2166.0,540.7 2157.8,543.6 2149.5,545.4 C2141.3,547.3 2132.5,548.5 2124.8,547.9 C2117.0,547.3 2110.7,544.8 2102.9,541.7 C2095.1,538.6 2086.4,533.1 2078.1,529.3 C2069.9,525.6 2061.6,522.3 2053.4,519.4 C2045.1,516.6 2035.2,514.9 2028.6,512.0 C2022.0,509.1 2019.9,505.8 2013.7,502.1 C2007.6,498.4 1999.3,493.0 1991.5,489.7 C1983.6,486.4 1974.9,484.8 1966.7,482.3 C1958.4,479.8 1950.2,477.8 1941.9,474.9 C1933.7,472.0 1922.9,466.8 1917.2,465.0 C1911.4,463.1 1909.7,467.2 1907.2,463.7 C1904.8,460.1 1903.5,451.3 1902.3,443.8 C1901.1,436.4 1900.4,427.3 1899.8,419.1 C1899.2,410.8 1897.8,402.6 1898.6,394.3 C1899.4,386.0 1902.9,376.6 1904.8,369.5 C1906.7,362.5 1906.7,358.4 1910.0,352.0 C1913.3,345.6 1919.3,335.2 1924.6,330.9 C1929.9,326.6 1935.7,328.4 1941.9,325.9 C1948.1,323.5 1954.7,320.6 1961.7,316.0 C1968.8,311.5 1978.2,304.5 1984.0,298.7 C1989.8,292.9 1994.3,287.1 1996.4,281.4 C1998.5,275.6 1995.6,271.9 1996.4,264.0 C1997.2,256.2 2000.9,245.4 2001.4,234.3 C2001.8,223.2 1999.3,206.2 1998.9,197.2 C1998.5,188.1 1998.3,185.9 1999.0,180.0 C1999.7,174.1 2000.5,167.2 2003.0,162.0 Z" fill="#f3c6b6" stroke="#f6c9b8" stroke-width="3" stroke-linejoin="round"/>
<path d="M2003.0,162.0 C2005.5,156.8 2007.8,154.1 2013.7,148.6 C2019.7,143.1 2028.6,133.1 2038.5,128.8 C2048.4,124.5 2063.7,122.6 2073.2,122.6 C2082.7,122.6 2086.9,126.7 2095.5,128.8 C2104.1,130.9 2113.7,130.9 2124.8,135.0 C2135.8,139.1 2149.5,147.6 2161.9,153.6 C2174.3,159.5 2188.8,166.5 2199.1,170.9 C2209.4,175.3 2215.6,176.7 2223.8,179.8 C2232.1,183.0 2240.4,186.2 2248.6,189.7 C2256.9,193.2 2266.8,196.3 2273.4,200.9 C2280.0,205.4 2283.3,210.6 2288.2,217.0 C2293.2,223.4 2299.4,231.4 2303.1,239.3 C2306.8,247.1 2309.3,256.6 2310.5,264.0 C2311.8,271.5 2310.9,276.4 2310.5,283.8 C2310.1,291.3 2308.3,296.4 2308.0,308.6 C2307.8,320.8 2308.9,342.9 2309.3,357.2 C2309.7,371.4 2310.7,384.0 2310.5,394.3 C2310.3,404.6 2309.1,412.1 2308.0,419.1 C2307.0,426.1 2310.1,428.2 2304.3,436.4 C2298.6,444.7 2281.0,461.8 2273.4,468.6 C2265.7,475.4 2264.3,473.4 2258.5,477.3 C2252.7,481.3 2245.7,487.2 2238.7,492.2 C2231.7,497.2 2223.0,502.1 2216.4,507.1 C2209.8,512.0 2206.1,517.0 2199.1,521.9 C2192.1,526.9 2182.6,532.9 2174.3,536.8 C2166.0,540.7 2157.8,543.6 2149.5,545.4 C2141.3,547.3 2132.5,548.5 2124.8,547.9 C2117.0,547.3 2110.7,544.8 2102.9,541.7 C2095.1,538.6 2086.4,533.1 2078.1,529.3 C2069.9,525.6 2061.6,522.3 2053.4,519.4 C2045.1,516.6 2035.2,514.9 2028.6,512.0 C2022.0,509.1 2019.9,505.8 2013.7,502.1 C2007.6,498.4 1999.3,493.0 1991.5,489.7 C1983.6,486.4 1974.9,484.8 1966.7,482.3 C1958.4,479.8 1950.2,477.8 1941.9,474.9 C1933.7,472.0 1922.9,466.8 1917.2,465.0 C1911.4,463.1 1909.7,467.2 1907.2,463.7 C1904.8,460.1 1903.5,451.3 1902.3,443.8 C1901.1,436.4 1900.4,427.3 1899.8,419.1 C1899.2,410.8 1897.8,402.6 1898.6,394.3 C1899.4,386.0 1902.9,376.6 1904.8,369.5 C1906.7,362.5 1906.7,358.4 1910.0,352.0 C1913.3,345.6 1919.3,335.2 1924.6,330.9 C1929.9,326.6 1935.7,328.4 1941.9,325.9 C1948.1,323.5 1954.7,320.6 1961.7,316.0 C1968.8,311.5 1978.2,304.5 1984.0,298.7 C1989.8,292.9 1994.3,287.1 1996.4,281.4 C1998.5,275.6 1995.6,271.9 1996.4,264.0 C1997.2,256.2 2000.9,245.4 2001.4,234.3 C2001.8,223.2 1999.3,206.2 1998.9,197.2 C1998.5,188.1 1998.3,185.9 1999.0,180.0 C1999.7,174.1 2000.5,167.2 2003.0,162.0 Z" fill="#b7bfc4"/>
<path d="M2003.0,162.0 C2005.5,156.8 2007.8,154.1 2013.7,148.6 C2019.7,143.1 2028.6,133.1 2038.5,128.8 C2048.4,124.5 2063.7,122.6 2073.2,122.6 C2082.7,122.6 2086.9,126.7 2095.5,128.8 C2104.1,130.9 2113.7,130.9 2124.8,135.0 C2135.8,139.1 2149.5,147.6 2161.9,153.6 C2174.3,159.5 2188.8,166.5 2199.1,170.9 C2209.4,175.3 2215.7,176.6 2223.8,179.8 C2232.0,183.0 2241.0,186.3 2248.0,190.0 C2255.0,193.7 2261.0,196.3 2266.0,202.0 C2271.0,207.7 2275.0,215.7 2278.0,224.0 C2281.0,232.3 2283.2,240.0 2284.0,252.0 C2284.8,264.0 2283.5,281.3 2283.0,296.0 C2282.5,310.7 2281.7,327.7 2281.0,340.0 C2280.3,352.3 2279.3,359.3 2279.0,370.0 C2278.7,380.7 2280.0,395.5 2279.0,404.0 C2278.0,412.5 2278.1,415.2 2273.0,421.0 C2267.9,426.8 2256.8,432.6 2248.6,438.9 C2240.4,445.2 2231.2,452.9 2223.8,458.7 C2216.4,464.5 2212.2,467.6 2204.0,473.6 C2195.8,479.6 2183.4,489.9 2174.3,494.7 C2165.2,499.4 2157.8,501.1 2149.5,502.1 C2141.3,503.1 2133.0,502.9 2124.8,500.9 C2116.5,498.8 2107.8,493.4 2100.0,489.7 C2092.2,486.0 2085.9,481.6 2078.1,478.5 C2070.4,475.4 2061.6,473.6 2053.4,471.1 C2045.1,468.6 2036.9,466.7 2028.6,463.7 C2020.4,460.6 2011.3,456.3 2003.8,452.5 C1996.4,448.7 1991.0,444.5 1984.0,440.9 C1977.0,437.3 1968.8,433.6 1961.7,431.0 C1954.7,428.4 1949.3,427.5 1941.9,425.3 C1934.5,423.1 1924.0,421.4 1917.2,417.8 C1910.3,414.2 1903.3,409.7 1901.1,403.7 C1898.8,397.7 1902.7,387.8 1903.5,381.9 C1904.4,376.0 1904.6,373.3 1906.0,368.3 C1907.4,363.3 1908.9,358.2 1912.0,352.0 C1915.1,345.8 1919.6,335.2 1924.6,330.9 C1929.6,326.6 1935.7,328.4 1941.9,325.9 C1948.1,323.5 1954.7,320.6 1961.7,316.0 C1968.8,311.5 1978.2,304.5 1984.0,298.7 C1989.8,292.9 1994.3,287.1 1996.4,281.4 C1998.5,275.6 1995.6,271.9 1996.4,264.0 C1997.2,256.2 2000.9,245.4 2001.4,234.3 C2001.8,223.2 1999.3,206.2 1998.9,197.2 C1998.5,188.1 1998.3,185.9 1999.0,180.0 C1999.7,174.1 2000.5,167.2 2003.0,162.0 Z" fill="url(#gFace)"/>
<g clip-path="url(#cFace)">
<path d="M1998.2,188.7 C1996.1,182.1 2006.2,167.7 2013.3,161.4 C2020.3,155.1 2030.9,152.9 2040.5,150.8 C2050.1,148.8 2055.6,147.1 2070.8,149.3 C2085.9,151.6 2111.1,157.4 2131.3,164.5 C2151.4,171.5 2174.1,183.9 2191.8,191.7 C2209.4,199.5 2225.5,204.3 2237.1,211.3 C2248.7,218.4 2255.5,225.7 2261.3,234.0 C2267.1,242.3 2269.7,251.7 2271.9,261.3 C2274.2,270.8 2274.2,278.4 2274.9,291.5 C2275.7,304.6 2280.2,331.8 2276.5,339.9 C2272.7,348.0 2257.3,350.0 2252.3,339.9 C2247.2,329.8 2253.3,295.5 2246.2,279.4 C2239.1,263.3 2226.0,252.7 2209.9,243.1 C2193.8,233.5 2171.1,228.5 2149.4,221.9 C2127.7,215.4 2100.5,207.3 2079.8,203.8 C2059.2,200.2 2039.0,203.3 2025.4,200.8 C2011.8,198.2 2000.2,195.2 1998.2,188.7 Z" fill="url(#gBand)" filter="url(#rb1)"/>
<path d="M1992.1,176.6 C1992.6,169.5 1996.1,149.8 2004.2,140.3 C2012.3,130.7 2029.4,123.1 2040.5,119.1 C2051.6,115.0 2055.6,114.0 2070.8,116.1 C2085.9,118.1 2111.1,123.9 2131.3,131.2 C2151.4,138.5 2171.6,151.1 2191.8,159.9 C2211.9,168.7 2235.1,176.8 2252.3,184.1 C2269.4,191.4 2286.5,190.9 2294.6,203.8 C2302.7,216.6 2300.7,241.6 2300.7,261.3 C2300.7,280.9 2298.9,311.7 2294.6,321.8 C2290.3,331.8 2278.7,326.8 2274.9,321.8 C2271.2,316.7 2273.1,301.6 2271.9,291.5 C2270.8,281.4 2270.3,271.2 2268.0,261.3 C2265.7,251.3 2263.4,240.1 2258.3,231.6 C2253.2,223.1 2248.2,217.5 2237.1,210.4 C2226.0,203.4 2209.4,197.3 2191.8,189.3 C2174.1,181.2 2151.4,169.0 2131.3,162.0 C2111.1,155.1 2085.9,149.6 2070.8,147.5 C2055.6,145.4 2049.6,147.3 2040.5,149.3 C2031.4,151.4 2022.9,154.4 2016.3,159.9 C2009.7,165.5 2005.2,179.8 2001.2,182.6 C1997.1,185.4 1991.6,183.6 1992.1,176.6 Z" fill="#dedede" filter="url(#rb1)"/>
</g>
<g><path d="M2039.2,242.6 C2047.0,237.4 2071.0,238.7 2086.2,240.0 C2101.4,241.3 2114.5,247.8 2130.6,250.4 C2146.7,253.1 2170.6,248.7 2182.8,255.7 C2195.0,262.6 2201.1,275.7 2203.7,292.2 C2206.3,308.8 2202.0,341.0 2198.5,354.9 C2195.0,368.9 2185.9,368.0 2182.8,375.8 C2179.8,383.7 2186.3,393.7 2180.2,401.9 C2174.1,410.2 2161.9,422.4 2146.3,425.4 C2130.6,428.5 2102.7,424.6 2086.2,420.2 C2069.7,415.9 2058.8,405.0 2047.0,399.3 C2035.3,393.7 2022.6,395.4 2015.7,386.3 C2008.7,377.1 2001.3,356.7 2005.2,344.5 C2009.1,332.3 2033.5,325.3 2039.2,313.1 C2044.8,300.9 2039.2,283.1 2039.2,271.3 C2039.2,259.6 2031.3,247.8 2039.2,242.6 Z" fill="#e6e6f0" opacity="0.3" filter="url(#rb2)"/><path d="M2111.0,264.8 C2113.8,261.1 2122.1,253.3 2128.0,251.8 C2133.9,250.2 2141.5,254.1 2146.3,255.7 C2151.1,257.2 2152.8,261.1 2156.7,260.9 C2160.6,260.7 2165.4,254.8 2169.8,254.4 C2174.1,253.9 2177.8,252.8 2182.8,258.3 C2187.8,263.7 2196.8,278.7 2199.8,287.0 C2202.9,295.3 2201.8,301.8 2201.1,307.9 C2200.5,314.0 2196.5,318.4 2195.9,323.6 C2195.2,328.8 2198.1,334.5 2197.2,339.3 C2196.3,344.0 2193.7,349.5 2190.7,352.3 C2187.6,355.1 2182.8,360.6 2178.9,356.2 C2175.0,351.9 2171.3,332.9 2167.2,326.2 C2163.0,319.4 2158.5,319.7 2154.1,315.7 C2149.8,311.8 2145.8,307.0 2141.0,302.7 C2136.3,298.3 2130.4,294.4 2125.4,289.6 C2120.4,284.8 2113.4,278.1 2111.0,274.0 C2108.6,269.8 2108.2,268.5 2111.0,264.8 Z" fill="#8188c7" /><path d="M2114.9,271.3 C2118.4,272.6 2128.9,274.8 2135.8,279.2 C2142.8,283.5 2151.1,290.9 2156.7,297.5 C2162.4,304.0 2165.9,310.5 2169.8,318.4 C2173.7,326.2 2178.5,340.1 2180.2,344.5" fill="none" stroke="#4f5ba9" stroke-width="4.5" stroke-linecap="round" stroke-linejoin="round" /><path d="M2122.8,260.9 C2126.7,262.6 2138.9,266.1 2146.3,271.3 C2153.7,276.6 2161.1,284.4 2167.2,292.2 C2173.3,300.1 2179.4,309.7 2182.8,318.4 C2186.3,327.1 2187.2,340.1 2188.1,344.5" fill="none" stroke="#6572b7" stroke-width="4.0" stroke-linecap="round" stroke-linejoin="round" /><path d="M2146.3,259.6 C2149.8,262.0 2161.1,268.1 2167.2,274.0 C2173.3,279.8 2178.7,287.4 2182.8,294.9 C2187.0,302.3 2190.5,314.4 2192.0,318.4" fill="none" stroke="#4f5ba9" stroke-width="3.5" stroke-linecap="round" stroke-linejoin="round" /><path d="M2112.3,284.4 C2115.4,286.4 2124.1,290.9 2130.6,296.2 C2137.1,301.4 2146.0,311.2 2151.5,315.7 C2156.9,320.3 2161.3,322.3 2163.2,323.6" fill="none" stroke="#4f5ba9" stroke-width="5.0" stroke-linecap="round" stroke-linejoin="round" /><path d="M2043.1,266.1 C2045.7,259.8 2053.3,255.9 2060.1,251.8 C2066.8,247.6 2079.0,242.0 2083.6,241.3 C2088.2,240.7 2088.4,244.6 2087.5,247.8 C2086.6,251.1 2077.7,258.3 2078.4,260.9 C2079.0,263.5 2086.2,262.0 2091.4,263.5 C2096.6,265.0 2107.5,267.0 2109.7,270.0 C2111.9,273.1 2108.4,277.4 2104.5,281.8 C2100.6,286.1 2092.7,292.2 2086.2,296.2 C2079.7,300.1 2070.7,304.2 2065.3,305.3 C2059.9,306.4 2057.0,305.3 2053.5,302.7 C2050.1,300.1 2046.1,295.7 2044.4,289.6 C2042.7,283.5 2040.5,272.4 2043.1,266.1 Z" fill="#8f96cc" opacity="0.75"/><path d="M2044.4,269.3 C2047.2,266.9 2054.9,259.5 2061.2,255.4 C2067.6,251.3 2078.8,246.5 2082.3,244.7" fill="none" stroke="#6572b7" stroke-width="8.5" stroke-linecap="round" stroke-linejoin="round" /><path d="M2047.5,284.9 C2049.9,282.8 2056.2,276.0 2061.5,272.4 C2066.9,268.7 2076.6,264.6 2079.7,263.0" fill="none" stroke="#6572b7" stroke-width="8.0" stroke-linecap="round" stroke-linejoin="round" /><path d="M2054.9,301.4 C2057.2,298.7 2063.6,290.2 2069.1,285.4 C2074.5,280.7 2084.4,274.8 2087.5,272.6" fill="none" stroke="#6572b7" stroke-width="8.5" stroke-linecap="round" stroke-linejoin="round" /><path d="M2070.0,298.8 C2072.7,296.3 2080.3,288.5 2086.5,284.1 C2092.6,279.8 2103.6,274.6 2107.1,272.6" fill="none" stroke="#6572b7" stroke-width="8.5" stroke-linecap="round" stroke-linejoin="round" /><path d="M2048.3,293.5 C2049.5,292.1 2052.3,287.2 2055.4,284.8 C2058.4,282.4 2064.7,280.1 2066.6,279.2" fill="none" stroke="#4f5ba9" stroke-width="7.0" stroke-linecap="round" stroke-linejoin="round" /><path d="M2007.8,341.9 C2008.5,338.4 2010.9,336.2 2013.1,336.6 C2015.2,337.1 2018.7,346.2 2020.9,344.5 C2023.1,342.7 2023.9,329.7 2026.1,326.2 C2028.3,322.7 2031.8,325.3 2034.0,323.6 C2036.1,321.8 2036.8,317.7 2039.2,315.7 C2041.6,313.8 2046.1,310.1 2048.3,311.8 C2050.5,313.6 2052.9,322.1 2052.2,326.2 C2051.6,330.3 2044.8,332.7 2044.4,336.6 C2044.0,340.6 2047.7,349.5 2049.6,349.7 C2051.6,349.9 2054.0,337.9 2056.2,337.9 C2058.3,337.9 2059.4,345.1 2062.7,349.7 C2066.0,354.3 2073.1,359.3 2075.7,365.4 C2078.4,371.5 2080.5,382.8 2078.4,386.3 C2076.2,389.8 2067.5,388.0 2062.7,386.3 C2057.9,384.5 2053.5,379.3 2049.6,375.8 C2045.7,372.3 2042.7,365.4 2039.2,365.4 C2035.7,365.4 2031.3,371.9 2028.7,375.8 C2026.1,379.7 2025.7,388.0 2023.5,388.9 C2021.3,389.8 2018.1,386.3 2015.7,381.0 C2013.3,375.8 2010.4,364.1 2009.1,357.5 C2007.8,351.0 2007.2,345.3 2007.8,341.9 Z" fill="#6572b7" /><path d="M2031.3,328.8 C2030.9,332.3 2027.9,343.6 2028.7,349.7 C2029.6,355.8 2035.3,362.8 2036.6,365.4" fill="none" stroke="#e0e0e8" stroke-width="3.0" stroke-linecap="round" stroke-linejoin="round" /><path d="M2018.3,344.5 C2018.3,347.5 2017.4,356.7 2018.3,362.8 C2019.2,368.9 2022.6,378.0 2023.5,381.0" fill="none" stroke="#dcdce6" stroke-width="2.5" stroke-linecap="round" stroke-linejoin="round" /><path d="M2053.5,344.5 C2054.9,347.1 2059.6,354.1 2061.4,360.1 C2063.1,366.2 2063.6,377.6 2064.0,381.0" fill="none" stroke="#dcdce6" stroke-width="2.5" stroke-linecap="round" stroke-linejoin="round" /><path d="M2044.4,318.4 C2043.5,321.8 2038.7,331.9 2039.2,339.3 C2039.6,346.7 2043.5,355.8 2047.0,362.8 C2050.5,369.7 2057.9,378.0 2060.1,381.0" fill="none" stroke="#4f5ba9" stroke-width="4.0" stroke-linecap="round" stroke-linejoin="round" /></g>
<circle cx="2111" cy="331.5" r="41" fill="#93a3cd"/>
<circle cx="2111" cy="331.5" r="41" fill="none" stroke="#8290c4" stroke-width="3"/>
<path d="M2075.7,310.5 C2078.4,307.0 2081.4,306.6 2086.2,305.3 C2091.0,304.0 2098.8,302.7 2104.5,302.7 C2110.1,302.7 2114.9,304.0 2120.1,305.3 C2125.4,306.6 2131.5,307.5 2135.8,310.5 C2140.2,313.6 2144.1,318.8 2146.3,323.6 C2148.4,328.4 2149.8,334.5 2148.9,339.3 C2148.0,344.0 2145.0,348.4 2141.0,352.3 C2137.1,356.2 2131.5,361.0 2125.4,362.8 C2119.3,364.5 2111.0,363.6 2104.5,362.8 C2097.9,361.9 2091.4,360.6 2086.2,357.5 C2081.0,354.5 2075.7,349.7 2073.1,344.5 C2070.5,339.3 2070.1,331.9 2070.5,326.2 C2071.0,320.5 2073.1,314.0 2075.7,310.5 Z" fill="#6973b9" />
<path d="M2078.4,318.4 C2081.0,314.9 2086.2,312.2 2091.4,310.5 C2096.6,308.9 2103.2,308.0 2109.7,308.4 C2116.2,308.9 2125.4,310.2 2130.6,313.1 C2135.8,316.1 2139.1,321.8 2141.0,326.2 C2143.0,330.5 2143.7,335.3 2142.3,339.3 C2141.0,343.2 2137.8,347.1 2133.2,349.7 C2128.6,352.3 2121.5,354.3 2114.9,354.9 C2108.4,355.6 2099.9,355.4 2094.0,353.6 C2088.2,351.9 2082.7,348.2 2079.7,344.5 C2076.6,340.8 2076.0,335.8 2075.7,331.4 C2075.5,327.1 2075.7,321.8 2078.4,318.4 Z" fill="#7580c3" />
<circle cx="2107.6" cy="331" r="19" fill="url(#gNucS)"/>
<g><path d="M2039.2,378.4 C2040.5,383.7 2045.7,391.1 2049.6,396.7 C2053.5,402.4 2056.6,408.9 2062.7,412.4 C2068.8,415.9 2078.4,417.2 2086.2,417.6 C2094.0,418.0 2104.5,414.1 2109.7,415.0 C2114.9,415.9 2111.4,421.5 2117.5,422.8 C2123.6,424.1 2138.0,424.6 2146.3,422.8 C2154.5,421.1 2161.7,417.2 2167.2,412.4 C2172.6,407.6 2176.7,400.6 2178.9,394.1 C2181.1,387.6 2181.7,378.0 2180.2,373.2 C2178.7,368.4 2175.0,367.1 2169.8,365.4 C2164.6,363.6 2153.7,361.9 2148.9,362.8 C2144.1,363.6 2147.1,368.9 2141.0,370.6 C2134.9,372.3 2119.3,370.6 2112.3,373.2 C2105.3,375.8 2104.9,384.1 2099.3,386.3 C2093.6,388.4 2084.5,388.0 2078.4,386.3 C2072.3,384.5 2067.0,379.7 2062.7,375.8 C2058.3,371.9 2055.7,364.5 2052.2,362.8 C2048.8,361.0 2044.0,362.8 2041.8,365.4 C2039.6,368.0 2037.9,373.2 2039.2,378.4 Z" fill="#6572b7" /><path d="M2044.4,381.0 C2047.9,383.7 2057.9,392.8 2065.3,396.7 C2072.7,400.6 2081.4,403.2 2088.8,404.6 C2096.2,405.9 2106.2,404.6 2109.7,404.6" fill="none" stroke="#8188c7" stroke-width="5.0" stroke-linecap="round" stroke-linejoin="round" /><path d="M2114.9,396.7 C2119.3,397.2 2132.8,400.2 2141.0,399.3 C2149.3,398.5 2158.5,395.0 2164.6,391.5 C2170.6,388.0 2175.4,380.6 2177.6,378.4" fill="none" stroke="#8188c7" stroke-width="6.0" stroke-linecap="round" stroke-linejoin="round" /><path d="M2104.5,378.4 C2108.0,378.9 2117.5,381.5 2125.4,381.0 C2133.2,380.6 2143.7,378.0 2151.5,375.8 C2159.3,373.6 2168.9,369.3 2172.4,368.0" fill="none" stroke="#959bd2" stroke-width="4.0" stroke-linecap="round" stroke-linejoin="round" /><path d="M2049.6,394.1 C2052.7,396.7 2061.4,406.3 2067.9,409.8 C2074.4,413.3 2081.8,414.3 2088.8,415.0 C2095.8,415.7 2106.2,413.9 2109.7,413.7" fill="none" stroke="#4f5ba9" stroke-width="3.0" stroke-linecap="round" stroke-linejoin="round" /><path d="M2117.5,420.2 C2122.3,420.2 2138.0,422.0 2146.3,420.2 C2154.5,418.5 2163.7,411.5 2167.2,409.8" fill="none" stroke="#4f5ba9" stroke-width="3.0" stroke-linecap="round" stroke-linejoin="round" /></g>
<g transform="translate(2052.0 212.5) rotate(-6.0)"><rect x="-23.5" y="-11.5" width="50.0" height="28.0" rx="14.0" fill="#3c4478"/><rect x="-25.0" y="-14.0" width="50.0" height="28.0" rx="14.0" fill="#77733f"/><rect x="-23.2" y="-12.2" width="46.4" height="24.4" rx="12.2" fill="#f7df2e"/><rect x="-20.0" y="-10.0" width="38.0" height="19.0" rx="9.0" fill="#f9e85a" opacity="0.7"/></g>
<g transform="translate(2240.0 335.0) rotate(-17.0)"><rect x="-14.0" y="-26.0" width="31.0" height="57.0" rx="15.5" fill="#3c4478"/><rect x="-15.5" y="-28.5" width="31.0" height="57.0" rx="15.5" fill="#77733f"/><rect x="-13.7" y="-26.7" width="27.4" height="53.4" rx="13.7" fill="#f7df2e"/><rect x="-10.5" y="-24.5" width="19.0" height="48.0" rx="10.5" fill="#f9e85a" opacity="0.7"/></g>
<g transform="translate(2232.0 418.0) rotate(-27.0)"><rect x="-27.0" y="-13.0" width="57.0" height="31.0" rx="15.5" fill="#3c4478"/><rect x="-28.5" y="-15.5" width="57.0" height="31.0" rx="15.5" fill="#77733f"/><rect x="-26.7" y="-13.7" width="53.4" height="27.4" rx="13.7" fill="#f7df2e"/><rect x="-23.5" y="-11.5" width="45.0" height="22.0" rx="10.5" fill="#f9e85a" opacity="0.7"/></g>
<g transform="translate(1949.0 387.5) rotate(-38.0)"><rect x="-12.8" y="-22.5" width="28.5" height="50.0" rx="14.2" fill="#3c4478"/><rect x="-14.2" y="-25.0" width="28.5" height="50.0" rx="14.2" fill="#77733f"/><rect x="-12.4" y="-23.2" width="24.9" height="46.4" rx="12.4" fill="#f7df2e"/><rect x="-9.2" y="-21.0" width="16.5" height="41.0" rx="9.2" fill="#f9e85a" opacity="0.7"/></g>
<circle cx="2025.0" cy="259.0" r="4.5" fill="url(#gPink)"/>
<circle cx="2184.2" cy="236.3" r="6.5" fill="url(#gPink)"/>
<circle cx="2247.9" cy="295.0" r="6.5" fill="url(#gPink)"/>
<circle cx="1968.0" cy="340.3" r="5.5" fill="url(#gPink)"/>
<circle cx="1991.5" cy="367.6" r="5.5" fill="url(#gPink)"/>
<circle cx="2010.6" cy="394.8" r="7.0" fill="url(#gPink)"/>
<circle cx="1912.2" cy="390.6" r="5.0" fill="url(#gPink)"/>
<circle cx="2003.0" cy="420.3" r="5.0" fill="url(#gPink)"/>
<circle cx="2193.0" cy="392.8" r="5.0" fill="url(#gPink)"/>
<circle cx="2076.0" cy="462.2" r="5.5" fill="url(#gPink)"/>
<g fill="none" stroke="#a93a36" stroke-width="2.6" stroke-linecap="round"><path d="M1958,375 Q1966,366 1978,366"/><path d="M1966,384 Q1982,378 1997,387"/><path d="M1967,396 Q1986,400 1996,414"/><path d="M1934,378 Q1928,378 1921,385"/></g>
<g fill="#a93a36"><path d="M1976,361 L1984,366 L1976,371 Z"/><path d="M1994,381 L2002,390 L1991,391 Z"/><path d="M1992,416 L2000,420 L1998,410 Z"/><path d="M1925,379 L1917,389 L1927,388 Z"/></g>
<g transform="translate(2026.4 434.3) rotate(54.7)"><rect x="-18" y="-4.5" width="36" height="9" rx="2" fill="#8b9bc9"/><rect x="-18" y="-1.2" width="36" height="2.2" fill="#6a7cb6"/><rect x="-18" y="-4.5" width="36" height="1.8" fill="#b8c4e2"/><ellipse cx="17" cy="0" rx="2" ry="4.2" fill="#a9a6d6"/></g>
<g><path d="M2057.4,417.5 C2058.3,415.0 2061.3,411.5 2064.3,410.6 C2067.3,409.7 2071.2,410.9 2075.3,412.0 C2079.4,413.2 2084.9,415.9 2089.0,417.5 C2093.2,419.1 2097.5,419.8 2100.0,421.6 C2102.6,423.5 2104.2,426.0 2104.2,428.5 C2104.2,431.0 2102.1,434.7 2100.0,436.8 C2098.0,438.8 2095.0,440.9 2091.8,440.9 C2088.6,440.9 2084.0,437.9 2080.8,436.8 C2077.6,435.6 2074.8,434.9 2072.5,434.0 C2070.2,433.1 2069.3,432.6 2067.0,431.3 C2064.7,429.9 2060.4,428.1 2058.8,425.8 C2057.2,423.5 2056.5,420.0 2057.4,417.5 Z" fill="#f6d0c4" opacity="0.8" stroke="#f6d0c4" stroke-width="3"/><path d="M2100.0,445.0 C2101.2,443.3 2104.6,441.6 2108.3,441.6 C2112.0,441.6 2117.5,444.7 2122.0,445.0 C2126.6,445.4 2131.4,443.4 2135.8,443.6 C2140.2,443.9 2145.4,445.0 2148.2,446.4 C2150.9,447.8 2152.1,449.6 2152.3,451.9 C2152.5,454.2 2151.4,458.1 2149.6,460.2 C2147.7,462.2 2145.0,464.0 2141.3,464.3 C2137.6,464.5 2131.7,462.2 2127.6,461.5 C2123.4,460.8 2120.2,460.8 2116.5,460.2 C2112.9,459.5 2108.1,458.8 2105.5,457.4 C2103.0,456.0 2102.3,454.0 2101.4,451.9 C2100.5,449.8 2098.9,446.7 2100.0,445.0 Z" fill="#f6d0c4" opacity="0.8" stroke="#f6d0c4" stroke-width="3"/><path d="M2153.7,434.0 C2155.2,432.2 2158.3,430.1 2161.9,429.9 C2165.6,429.7 2171.1,432.6 2175.7,432.6 C2180.3,432.6 2185.1,429.9 2189.4,429.9 C2193.8,429.9 2199.3,431.0 2201.8,432.6 C2204.4,434.2 2204.8,437.0 2204.6,439.5 C2204.4,442.0 2203.0,446.2 2200.5,447.8 C2197.9,449.4 2193.6,449.1 2189.4,449.1 C2185.3,449.1 2179.6,448.2 2175.7,447.8 C2171.8,447.3 2169.3,446.4 2166.1,446.4 C2162.9,446.4 2158.6,448.7 2156.4,447.8 C2154.3,446.9 2153.5,443.2 2153.0,440.9 C2152.5,438.6 2152.2,435.9 2153.7,434.0 Z" fill="#f6d0c4" opacity="0.8" stroke="#f6d0c4" stroke-width="3"/><path d="M2049.1,428.5 L2058.8,424.4" fill="none" stroke="#cf3a1f" stroke-width="3.5" stroke-linecap="round" stroke-linejoin="round" /><path d="M2072.5,434.0 C2071.6,435.2 2068.6,438.8 2067.0,440.9 C2065.4,443.0 2063.6,445.5 2062.9,446.4" fill="none" stroke="#cf3a1f" stroke-width="3.5" stroke-linecap="round" stroke-linejoin="round" /><path d="M2093.2,460.8 L2104.2,456.0" fill="none" stroke="#cf3a1f" stroke-width="3.5" stroke-linecap="round" stroke-linejoin="round" /><path d="M2119.3,461.5 L2115.2,471.2" fill="none" stroke="#cf3a1f" stroke-width="3.5" stroke-linecap="round" stroke-linejoin="round" /><path d="M2170.2,447.8 L2166.8,461.5" fill="none" stroke="#cf3a1f" stroke-width="4.0" stroke-linecap="round" stroke-linejoin="round" /><path d="M2153.7,447.8 L2159.2,445.0" fill="none" stroke="#cf3a1f" stroke-width="3.0" stroke-linecap="round" stroke-linejoin="round" /><path d="M2057.4,417.5 C2058.3,415.0 2061.3,411.5 2064.3,410.6 C2067.3,409.7 2071.2,410.9 2075.3,412.0 C2079.4,413.2 2084.9,415.9 2089.0,417.5 C2093.2,419.1 2097.5,419.8 2100.0,421.6 C2102.6,423.5 2104.2,426.0 2104.2,428.5 C2104.2,431.0 2102.1,434.7 2100.0,436.8 C2098.0,438.8 2095.0,440.9 2091.8,440.9 C2088.6,440.9 2084.0,437.9 2080.8,436.8 C2077.6,435.6 2074.8,434.9 2072.5,434.0 C2070.2,433.1 2069.3,432.6 2067.0,431.3 C2064.7,429.9 2060.4,428.1 2058.8,425.8 C2057.2,423.5 2056.5,420.0 2057.4,417.5 Z" fill="#cf3a1f" /><path d="M2100.0,445.0 C2101.2,443.3 2104.6,441.6 2108.3,441.6 C2112.0,441.6 2117.5,444.7 2122.0,445.0 C2126.6,445.4 2131.4,443.4 2135.8,443.6 C2140.2,443.9 2145.4,445.0 2148.2,446.4 C2150.9,447.8 2152.1,449.6 2152.3,451.9 C2152.5,454.2 2151.4,458.1 2149.6,460.2 C2147.7,462.2 2145.0,464.0 2141.3,464.3 C2137.6,464.5 2131.7,462.2 2127.6,461.5 C2123.4,460.8 2120.2,460.8 2116.5,460.2 C2112.9,459.5 2108.1,458.8 2105.5,457.4 C2103.0,456.0 2102.3,454.0 2101.4,451.9 C2100.5,449.8 2098.9,446.7 2100.0,445.0 Z" fill="#cf3a1f" /><path d="M2153.7,434.0 C2155.2,432.2 2158.3,430.1 2161.9,429.9 C2165.6,429.7 2171.1,432.6 2175.7,432.6 C2180.3,432.6 2185.1,429.9 2189.4,429.9 C2193.8,429.9 2199.3,431.0 2201.8,432.6 C2204.4,434.2 2204.8,437.0 2204.6,439.5 C2204.4,442.0 2203.0,446.2 2200.5,447.8 C2197.9,449.4 2193.6,449.1 2189.4,449.1 C2185.3,449.1 2179.6,448.2 2175.7,447.8 C2171.8,447.3 2169.3,446.4 2166.1,446.4 C2162.9,446.4 2158.6,448.7 2156.4,447.8 C2154.3,446.9 2153.5,443.2 2153.0,440.9 C2152.5,438.6 2152.2,435.9 2153.7,434.0 Z" fill="#cf3a1f" /><path d="M2067.0,416.1 C2069.3,416.7 2076.0,418.0 2080.8,419.6 C2085.6,421.2 2093.4,424.7 2095.9,425.8" fill="none" stroke="#e4502c" stroke-width="3.0" stroke-linecap="round" stroke-linejoin="round" opacity="0.8"/><path d="M2108.3,446.4 C2111.0,447.1 2118.6,450.1 2124.8,450.5 C2131.0,451.0 2142.0,449.4 2145.4,449.1" fill="none" stroke="#e4502c" stroke-width="3.0" stroke-linecap="round" stroke-linejoin="round" opacity="0.8"/><path d="M2159.2,434.0 C2162.4,434.6 2171.8,437.2 2178.4,437.5 C2185.1,437.7 2195.6,435.7 2199.1,435.4" fill="none" stroke="#e4502c" stroke-width="3.0" stroke-linecap="round" stroke-linejoin="round" opacity="0.8"/></g>
<circle cx="2048.5" cy="428.5" r="5.5" fill="url(#gRedB)"/>
<circle cx="2092.5" cy="461.5" r="5.5" fill="url(#gRedB)"/>
<circle cx="2061.5" cy="447.8" r="6.0" fill="url(#gLav)"/>
<circle cx="2113.8" cy="473.9" r="7.0" fill="url(#gLav)"/>
<circle cx="2153.7" cy="468.4" r="6.0" fill="url(#gLav)"/>
<circle cx="2164.7" cy="465.7" r="6.0" fill="url(#gLav)"/>
<circle cx="2199.0" cy="454.6" r="6.0" fill="url(#gLav)"/>
<path d="M1891,476.5 C1920,485 1945,493 1960,499.6 L1998.5,515 L2037,535.3 L2075.5,549.7 L2114,564 L2152.6,580.5 L2191,595 L2225.7,605.5 L2210,611 L2181.4,609 L2152.6,598 L2114,583 L2075.5,569 L2037,550 L1998.5,529 L1960,511 C1940,502 1915,490 1891,480.5 Z" fill="#c9b3d6" opacity="0.45" filter="url(#rb2)"/>
<path d="M1891,476.5 C1920,485 1945,493 1960,499.6 L1998.5,515 L2037,535.3 L2075.5,549.7 L2114,564 L2152.6,580.5 L2191,595 L2225.7,605.5 L2200,607 L2170,600 L2152.6,594 L2114,578.5 L2075.5,564 L2037,546 L1998.5,525 L1960,507.5 C1940,499 1915,489 1891,479.5 Z" fill="url(#gVein)"/>
<path d="M1998.5,517.5 L2037,538 L2075.5,552.5 L2114,567 L2152.6,583.5 L2191,597.5" fill="none" stroke="#8a5ca2" stroke-width="2.2" opacity="0.65"/>
<path d="M1976,532 Q2000,536 2020,546 Q2032,550 2042,545" fill="none" stroke="#a48bb4" stroke-width="2.8" opacity="0.9"/>
<text x="0" y="0" font-size="15.5" fill="#9ca5ab" opacity="0.9" transform="translate(1921 443) rotate(25.5)" textLength="205" lengthAdjust="spacingAndGlyphs">© 2006 LASER THERAPEUTICS, INC.</text>
</g>
<g filter="url(#rbt)">
<circle cx="2064.5" cy="89.0" r="15.0" fill="#fdfdfd" stroke="#222" stroke-width="2.3"/><text x="2064.5" y="96.8" font-size="22" font-weight="bold" text-anchor="middle" fill="#0a0a0a" stroke="#0a0a0a" stroke-width="0.5">1</text>
<circle cx="2027.9" cy="181.0" r="15.5" fill="#fdfdfd" stroke="#222" stroke-width="2.3"/><text x="2027.9" y="188.8" font-size="22" font-weight="bold" text-anchor="middle" fill="#0a0a0a" stroke="#0a0a0a" stroke-width="0.5">2</text>
<circle cx="1938.2" cy="344.3" r="15.5" fill="#fdfdfd" stroke="#222" stroke-width="2.3"/><text x="1938.2" y="352.1" font-size="22" font-weight="bold" text-anchor="middle" fill="#0a0a0a" stroke="#0a0a0a" stroke-width="0.5">3</text>
<text x="2090" y="96.5" font-size="17.5" font-weight="bold" fill="#fbeee8" textLength="94" lengthAdjust="spacingAndGlyphs">Laser Light</text>
<text x="2081.5" y="224" font-size="12.6" font-weight="bold" fill="#2f4d4c" textLength="88" lengthAdjust="spacingAndGlyphs">Mitochondria</text>
<g font-size="14" font-weight="bold" fill="#050505" stroke="#050505" stroke-width="0.3"><text x="1971" y="359.6" textLength="28" lengthAdjust="spacingAndGlyphs">ATP</text><text x="1914" y="410.4" textLength="27" lengthAdjust="spacingAndGlyphs">ATP</text><text x="1967.5" y="430.4" textLength="28" lengthAdjust="spacingAndGlyphs">ATP</text></g>
<text x="2164.5" y="580.6" font-size="14" font-weight="bold" fill="#3a3a3a" textLength="30" lengthAdjust="spacingAndGlyphs">Vein</text>
</g>
<!--CAPTIONS-->
<g class="cap">
<text y="674.3"><tspan x="300" textLength="74" lengthAdjust="spacingAndGlyphs">Cell</tspan> <tspan x="388.5" textLength="172" lengthAdjust="spacingAndGlyphs">structure</tspan></text>
<text y="694.4"><tspan x="1215" textLength="75" lengthAdjust="spacingAndGlyphs">Cell</tspan> <tspan x="1304" textLength="181" lengthAdjust="spacingAndGlyphs">response</tspan></text>
<text y="694.4"><tspan x="2020.5" textLength="75" lengthAdjust="spacingAndGlyphs">Cell</tspan> <tspan x="2109.5" textLength="190" lengthAdjust="spacingAndGlyphs">activation</tspan></text>
</g>
</svg>
</body></html>
